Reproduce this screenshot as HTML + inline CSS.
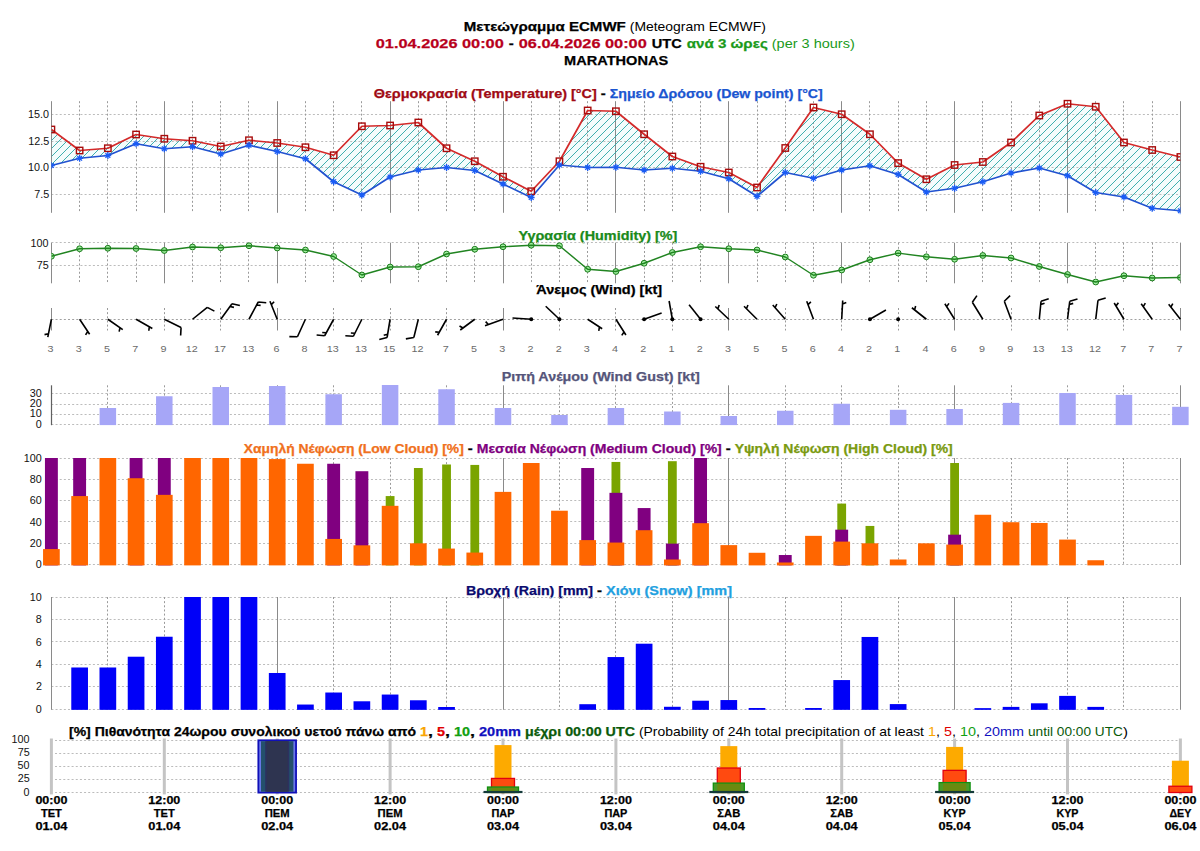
<!DOCTYPE html>
<html><head><meta charset="utf-8"><title>Meteogram ECMWF</title>
<style>html,body{margin:0;padding:0;background:#fff;}svg{display:block;}text{font-family:"Liberation Sans",sans-serif;}</style>
</head><body>
<svg width="1200" height="851" viewBox="0 0 1200 851">
<rect width="1200" height="851" fill="#fff"/>
<text x="463.81" y="30.80" font-size="13.65" font-weight="bold" fill="#000" stroke="#000" stroke-width="0.25" textLength="162.00" lengthAdjust="spacingAndGlyphs">Μετεώγραμμα ECMWF</text>
<text x="629.81" y="30.80" font-size="13.65" font-weight="normal" fill="#000" textLength="136.00" lengthAdjust="spacingAndGlyphs">(Meteogram ECMWF)</text>
<text x="375.78" y="47.60" font-size="13.65" font-weight="bold" fill="#b8001c" stroke="#b8001c" stroke-width="0.25" textLength="128.00" lengthAdjust="spacingAndGlyphs">01.04.2026 00:00</text>
<text x="508.78" y="47.60" font-size="13.65" font-weight="bold" fill="#000" stroke="#000" stroke-width="0.25" textLength="5.00" lengthAdjust="spacingAndGlyphs">-</text>
<text x="518.78" y="47.60" font-size="13.65" font-weight="bold" fill="#b8001c" stroke="#b8001c" stroke-width="0.25" textLength="128.00" lengthAdjust="spacingAndGlyphs">06.04.2026 00:00</text>
<text x="651.78" y="47.60" font-size="13.65" font-weight="bold" fill="#000" stroke="#000" stroke-width="0.25" textLength="30.00" lengthAdjust="spacingAndGlyphs">UTC</text>
<text x="686.78" y="47.60" font-size="13.65" font-weight="bold" fill="#1a9a1a" stroke="#1a9a1a" stroke-width="0.25" textLength="81.00" lengthAdjust="spacingAndGlyphs">ανά 3 ώρες</text>
<text x="771.78" y="47.60" font-size="13.65" font-weight="normal" fill="#1a9a1a" textLength="83.00" lengthAdjust="spacingAndGlyphs">(per 3 hours)</text>
<text x="564.11" y="64.60" font-size="13.65" font-weight="bold" fill="#000" stroke="#000" stroke-width="0.25" textLength="104.00" lengthAdjust="spacingAndGlyphs">MARATHONAS</text>
<text x="373.80" y="98.20" font-size="12.60" font-weight="bold" fill="#a00a14" stroke="#a00a14" stroke-width="0.25" textLength="223.00" lengthAdjust="spacingAndGlyphs">Θερμοκρασία (Temperature) [°C]</text>
<text x="600.80" y="98.20" font-size="12.60" font-weight="bold" fill="#000" stroke="#000" stroke-width="0.25" textLength="5.00" lengthAdjust="spacingAndGlyphs">-</text>
<text x="609.80" y="98.20" font-size="12.60" font-weight="bold" fill="#1a55d0" stroke="#1a55d0" stroke-width="0.25" textLength="213.00" lengthAdjust="spacingAndGlyphs">Σημείο Δρόσου (Dew point) [°C]</text>
<polygon points="51.40,129.50 79.62,150.50 107.85,148.25 136.08,134.50 164.30,138.75 192.53,140.75 220.75,146.50 248.98,140.25 277.20,143.00 305.43,147.25 333.65,155.25 361.88,126.25 390.10,125.50 418.32,122.50 446.55,148.25 474.77,161.25 503.00,176.75 531.23,191.25 559.45,161.25 587.67,110.50 615.90,111.25 644.12,134.25 672.35,156.50 700.58,166.75 728.80,172.50 757.02,187.50 785.25,148.00 813.48,107.50 841.70,114.25 869.93,134.25 898.15,163.10 926.38,179.25 954.60,165.00 982.83,162.00 1011.05,142.50 1039.28,115.50 1067.50,103.75 1095.73,106.75 1123.95,142.50 1152.18,150.00 1180.40,157.00 1180.40,210.75 1152.18,208.25 1123.95,197.00 1095.73,192.50 1067.50,175.75 1039.28,168.00 1011.05,173.00 982.83,181.75 954.60,188.25 926.38,192.00 898.15,174.50 869.93,165.75 841.70,170.00 813.48,178.25 785.25,172.50 757.02,196.25 728.80,178.75 700.58,171.25 672.35,168.25 644.12,170.00 615.90,167.25 587.67,167.50 559.45,165.00 531.23,197.50 503.00,184.00 474.77,170.50 446.55,167.50 418.32,170.00 390.10,177.00 361.88,195.00 333.65,181.75 305.43,158.75 277.20,151.50 248.98,145.25 220.75,154.00 192.53,146.75 164.30,148.75 136.08,143.75 107.85,155.50 79.62,158.25 51.40,165.50" fill="#f4fcfc"/>
<line x1="51.40" y1="114.50" x2="1180.40" y2="114.50" stroke="#bcbcbc" stroke-width="1" stroke-dasharray="2,2.15"/>
<line x1="51.40" y1="141.50" x2="1180.40" y2="141.50" stroke="#bcbcbc" stroke-width="1" stroke-dasharray="2,2.15"/>
<line x1="51.40" y1="167.50" x2="1180.40" y2="167.50" stroke="#bcbcbc" stroke-width="1" stroke-dasharray="2,2.15"/>
<line x1="51.40" y1="194.50" x2="1180.40" y2="194.50" stroke="#bcbcbc" stroke-width="1" stroke-dasharray="2,2.15"/>
<line x1="51.50" y1="101.20" x2="51.50" y2="212.80" stroke="#8a8a8a" stroke-width="1"/>
<line x1="79.50" y1="101.20" x2="79.50" y2="212.80" stroke="#9a9a9a" stroke-width="1" stroke-dasharray="2,2.15"/>
<line x1="107.50" y1="101.20" x2="107.50" y2="212.80" stroke="#9a9a9a" stroke-width="1" stroke-dasharray="2,2.15"/>
<line x1="136.50" y1="101.20" x2="136.50" y2="212.80" stroke="#9a9a9a" stroke-width="1" stroke-dasharray="2,2.15"/>
<line x1="164.50" y1="101.20" x2="164.50" y2="212.80" stroke="#8a8a8a" stroke-width="1"/>
<line x1="192.50" y1="101.20" x2="192.50" y2="212.80" stroke="#9a9a9a" stroke-width="1" stroke-dasharray="2,2.15"/>
<line x1="220.50" y1="101.20" x2="220.50" y2="212.80" stroke="#9a9a9a" stroke-width="1" stroke-dasharray="2,2.15"/>
<line x1="248.50" y1="101.20" x2="248.50" y2="212.80" stroke="#9a9a9a" stroke-width="1" stroke-dasharray="2,2.15"/>
<line x1="277.50" y1="101.20" x2="277.50" y2="212.80" stroke="#8a8a8a" stroke-width="1"/>
<line x1="305.50" y1="101.20" x2="305.50" y2="212.80" stroke="#9a9a9a" stroke-width="1" stroke-dasharray="2,2.15"/>
<line x1="333.50" y1="101.20" x2="333.50" y2="212.80" stroke="#9a9a9a" stroke-width="1" stroke-dasharray="2,2.15"/>
<line x1="361.50" y1="101.20" x2="361.50" y2="212.80" stroke="#9a9a9a" stroke-width="1" stroke-dasharray="2,2.15"/>
<line x1="390.50" y1="101.20" x2="390.50" y2="212.80" stroke="#8a8a8a" stroke-width="1"/>
<line x1="418.50" y1="101.20" x2="418.50" y2="212.80" stroke="#9a9a9a" stroke-width="1" stroke-dasharray="2,2.15"/>
<line x1="446.50" y1="101.20" x2="446.50" y2="212.80" stroke="#9a9a9a" stroke-width="1" stroke-dasharray="2,2.15"/>
<line x1="474.50" y1="101.20" x2="474.50" y2="212.80" stroke="#9a9a9a" stroke-width="1" stroke-dasharray="2,2.15"/>
<line x1="503.50" y1="101.20" x2="503.50" y2="212.80" stroke="#8a8a8a" stroke-width="1"/>
<line x1="531.50" y1="101.20" x2="531.50" y2="212.80" stroke="#9a9a9a" stroke-width="1" stroke-dasharray="2,2.15"/>
<line x1="559.50" y1="101.20" x2="559.50" y2="212.80" stroke="#9a9a9a" stroke-width="1" stroke-dasharray="2,2.15"/>
<line x1="587.50" y1="101.20" x2="587.50" y2="212.80" stroke="#9a9a9a" stroke-width="1" stroke-dasharray="2,2.15"/>
<line x1="615.50" y1="101.20" x2="615.50" y2="212.80" stroke="#8a8a8a" stroke-width="1"/>
<line x1="644.50" y1="101.20" x2="644.50" y2="212.80" stroke="#9a9a9a" stroke-width="1" stroke-dasharray="2,2.15"/>
<line x1="672.50" y1="101.20" x2="672.50" y2="212.80" stroke="#9a9a9a" stroke-width="1" stroke-dasharray="2,2.15"/>
<line x1="700.50" y1="101.20" x2="700.50" y2="212.80" stroke="#9a9a9a" stroke-width="1" stroke-dasharray="2,2.15"/>
<line x1="728.50" y1="101.20" x2="728.50" y2="212.80" stroke="#8a8a8a" stroke-width="1"/>
<line x1="757.50" y1="101.20" x2="757.50" y2="212.80" stroke="#9a9a9a" stroke-width="1" stroke-dasharray="2,2.15"/>
<line x1="785.50" y1="101.20" x2="785.50" y2="212.80" stroke="#9a9a9a" stroke-width="1" stroke-dasharray="2,2.15"/>
<line x1="813.50" y1="101.20" x2="813.50" y2="212.80" stroke="#9a9a9a" stroke-width="1" stroke-dasharray="2,2.15"/>
<line x1="841.50" y1="101.20" x2="841.50" y2="212.80" stroke="#8a8a8a" stroke-width="1"/>
<line x1="869.50" y1="101.20" x2="869.50" y2="212.80" stroke="#9a9a9a" stroke-width="1" stroke-dasharray="2,2.15"/>
<line x1="898.50" y1="101.20" x2="898.50" y2="212.80" stroke="#9a9a9a" stroke-width="1" stroke-dasharray="2,2.15"/>
<line x1="926.50" y1="101.20" x2="926.50" y2="212.80" stroke="#9a9a9a" stroke-width="1" stroke-dasharray="2,2.15"/>
<line x1="954.50" y1="101.20" x2="954.50" y2="212.80" stroke="#8a8a8a" stroke-width="1"/>
<line x1="982.50" y1="101.20" x2="982.50" y2="212.80" stroke="#9a9a9a" stroke-width="1" stroke-dasharray="2,2.15"/>
<line x1="1011.50" y1="101.20" x2="1011.50" y2="212.80" stroke="#9a9a9a" stroke-width="1" stroke-dasharray="2,2.15"/>
<line x1="1039.50" y1="101.20" x2="1039.50" y2="212.80" stroke="#9a9a9a" stroke-width="1" stroke-dasharray="2,2.15"/>
<line x1="1067.50" y1="101.20" x2="1067.50" y2="212.80" stroke="#8a8a8a" stroke-width="1"/>
<line x1="1095.50" y1="101.20" x2="1095.50" y2="212.80" stroke="#9a9a9a" stroke-width="1" stroke-dasharray="2,2.15"/>
<line x1="1123.50" y1="101.20" x2="1123.50" y2="212.80" stroke="#9a9a9a" stroke-width="1" stroke-dasharray="2,2.15"/>
<line x1="1152.50" y1="101.20" x2="1152.50" y2="212.80" stroke="#9a9a9a" stroke-width="1" stroke-dasharray="2,2.15"/>
<line x1="1180.50" y1="101.20" x2="1180.50" y2="212.80" stroke="#8a8a8a" stroke-width="1"/>
<text x="27.96" y="118.14" font-size="10.50" font-weight="normal" fill="#111" textLength="21.00" lengthAdjust="spacingAndGlyphs">15.0</text>
<text x="28.17" y="144.75" font-size="10.50" font-weight="normal" fill="#111" textLength="21.00" lengthAdjust="spacingAndGlyphs">12.5</text>
<text x="27.96" y="171.25" font-size="10.50" font-weight="normal" fill="#111" textLength="21.00" lengthAdjust="spacingAndGlyphs">10.0</text>
<text x="34.17" y="197.84" font-size="10.50" font-weight="normal" fill="#111" textLength="15.00" lengthAdjust="spacingAndGlyphs">7.5</text>
<defs><pattern id="hatch" patternUnits="userSpaceOnUse" width="8" height="8"><path d="M-2,2 L2,-2 M0,8 L8,0 M6,10 L10,6" stroke="#2aa6a6" stroke-width="0.9"/></pattern><clipPath id="tclip"><rect x="51.40" y="0" width="1129.00" height="851"/></clipPath></defs>
<g clip-path="url(#tclip)">
<polygon points="51.40,129.50 79.62,150.50 107.85,148.25 136.08,134.50 164.30,138.75 192.53,140.75 220.75,146.50 248.98,140.25 277.20,143.00 305.43,147.25 333.65,155.25 361.88,126.25 390.10,125.50 418.32,122.50 446.55,148.25 474.77,161.25 503.00,176.75 531.23,191.25 559.45,161.25 587.67,110.50 615.90,111.25 644.12,134.25 672.35,156.50 700.58,166.75 728.80,172.50 757.02,187.50 785.25,148.00 813.48,107.50 841.70,114.25 869.93,134.25 898.15,163.10 926.38,179.25 954.60,165.00 982.83,162.00 1011.05,142.50 1039.28,115.50 1067.50,103.75 1095.73,106.75 1123.95,142.50 1152.18,150.00 1180.40,157.00 1180.40,210.75 1152.18,208.25 1123.95,197.00 1095.73,192.50 1067.50,175.75 1039.28,168.00 1011.05,173.00 982.83,181.75 954.60,188.25 926.38,192.00 898.15,174.50 869.93,165.75 841.70,170.00 813.48,178.25 785.25,172.50 757.02,196.25 728.80,178.75 700.58,171.25 672.35,168.25 644.12,170.00 615.90,167.25 587.67,167.50 559.45,165.00 531.23,197.50 503.00,184.00 474.77,170.50 446.55,167.50 418.32,170.00 390.10,177.00 361.88,195.00 333.65,181.75 305.43,158.75 277.20,151.50 248.98,145.25 220.75,154.00 192.53,146.75 164.30,148.75 136.08,143.75 107.85,155.50 79.62,158.25 51.40,165.50" fill="url(#hatch)"/>
<polyline points="51.40,129.50 79.62,150.50 107.85,148.25 136.08,134.50 164.30,138.75 192.53,140.75 220.75,146.50 248.98,140.25 277.20,143.00 305.43,147.25 333.65,155.25 361.88,126.25 390.10,125.50 418.32,122.50 446.55,148.25 474.77,161.25 503.00,176.75 531.23,191.25 559.45,161.25 587.67,110.50 615.90,111.25 644.12,134.25 672.35,156.50 700.58,166.75 728.80,172.50 757.02,187.50 785.25,148.00 813.48,107.50 841.70,114.25 869.93,134.25 898.15,163.10 926.38,179.25 954.60,165.00 982.83,162.00 1011.05,142.50 1039.28,115.50 1067.50,103.75 1095.73,106.75 1123.95,142.50 1152.18,150.00 1180.40,157.00" fill="none" stroke="#d42a2a" stroke-width="1.7" stroke-linejoin="round"/>
<polyline points="51.40,165.50 79.62,158.25 107.85,155.50 136.08,143.75 164.30,148.75 192.53,146.75 220.75,154.00 248.98,145.25 277.20,151.50 305.43,158.75 333.65,181.75 361.88,195.00 390.10,177.00 418.32,170.00 446.55,167.50 474.77,170.50 503.00,184.00 531.23,197.50 559.45,165.00 587.67,167.50 615.90,167.25 644.12,170.00 672.35,168.25 700.58,171.25 728.80,178.75 757.02,196.25 785.25,172.50 813.48,178.25 841.70,170.00 869.93,165.75 898.15,174.50 926.38,192.00 954.60,188.25 982.83,181.75 1011.05,173.00 1039.28,168.00 1067.50,175.75 1095.73,192.50 1123.95,197.00 1152.18,208.25 1180.40,210.75" fill="none" stroke="#2152d0" stroke-width="1.7" stroke-linejoin="round"/>
<rect x="48.20" y="126.30" width="6.4" height="6.4" fill="none" stroke="#a80c0c" stroke-width="1.4"/>
<rect x="76.42" y="147.30" width="6.4" height="6.4" fill="none" stroke="#a80c0c" stroke-width="1.4"/>
<rect x="104.65" y="145.05" width="6.4" height="6.4" fill="none" stroke="#a80c0c" stroke-width="1.4"/>
<rect x="132.88" y="131.30" width="6.4" height="6.4" fill="none" stroke="#a80c0c" stroke-width="1.4"/>
<rect x="161.10" y="135.55" width="6.4" height="6.4" fill="none" stroke="#a80c0c" stroke-width="1.4"/>
<rect x="189.33" y="137.55" width="6.4" height="6.4" fill="none" stroke="#a80c0c" stroke-width="1.4"/>
<rect x="217.55" y="143.30" width="6.4" height="6.4" fill="none" stroke="#a80c0c" stroke-width="1.4"/>
<rect x="245.78" y="137.05" width="6.4" height="6.4" fill="none" stroke="#a80c0c" stroke-width="1.4"/>
<rect x="274.00" y="139.80" width="6.4" height="6.4" fill="none" stroke="#a80c0c" stroke-width="1.4"/>
<rect x="302.23" y="144.05" width="6.4" height="6.4" fill="none" stroke="#a80c0c" stroke-width="1.4"/>
<rect x="330.45" y="152.05" width="6.4" height="6.4" fill="none" stroke="#a80c0c" stroke-width="1.4"/>
<rect x="358.68" y="123.05" width="6.4" height="6.4" fill="none" stroke="#a80c0c" stroke-width="1.4"/>
<rect x="386.90" y="122.30" width="6.4" height="6.4" fill="none" stroke="#a80c0c" stroke-width="1.4"/>
<rect x="415.12" y="119.30" width="6.4" height="6.4" fill="none" stroke="#a80c0c" stroke-width="1.4"/>
<rect x="443.35" y="145.05" width="6.4" height="6.4" fill="none" stroke="#a80c0c" stroke-width="1.4"/>
<rect x="471.57" y="158.05" width="6.4" height="6.4" fill="none" stroke="#a80c0c" stroke-width="1.4"/>
<rect x="499.80" y="173.55" width="6.4" height="6.4" fill="none" stroke="#a80c0c" stroke-width="1.4"/>
<rect x="528.02" y="188.05" width="6.4" height="6.4" fill="none" stroke="#a80c0c" stroke-width="1.4"/>
<rect x="556.25" y="158.05" width="6.4" height="6.4" fill="none" stroke="#a80c0c" stroke-width="1.4"/>
<rect x="584.47" y="107.30" width="6.4" height="6.4" fill="none" stroke="#a80c0c" stroke-width="1.4"/>
<rect x="612.70" y="108.05" width="6.4" height="6.4" fill="none" stroke="#a80c0c" stroke-width="1.4"/>
<rect x="640.92" y="131.05" width="6.4" height="6.4" fill="none" stroke="#a80c0c" stroke-width="1.4"/>
<rect x="669.15" y="153.30" width="6.4" height="6.4" fill="none" stroke="#a80c0c" stroke-width="1.4"/>
<rect x="697.38" y="163.55" width="6.4" height="6.4" fill="none" stroke="#a80c0c" stroke-width="1.4"/>
<rect x="725.60" y="169.30" width="6.4" height="6.4" fill="none" stroke="#a80c0c" stroke-width="1.4"/>
<rect x="753.82" y="184.30" width="6.4" height="6.4" fill="none" stroke="#a80c0c" stroke-width="1.4"/>
<rect x="782.05" y="144.80" width="6.4" height="6.4" fill="none" stroke="#a80c0c" stroke-width="1.4"/>
<rect x="810.27" y="104.30" width="6.4" height="6.4" fill="none" stroke="#a80c0c" stroke-width="1.4"/>
<rect x="838.50" y="111.05" width="6.4" height="6.4" fill="none" stroke="#a80c0c" stroke-width="1.4"/>
<rect x="866.73" y="131.05" width="6.4" height="6.4" fill="none" stroke="#a80c0c" stroke-width="1.4"/>
<rect x="894.95" y="159.90" width="6.4" height="6.4" fill="none" stroke="#a80c0c" stroke-width="1.4"/>
<rect x="923.17" y="176.05" width="6.4" height="6.4" fill="none" stroke="#a80c0c" stroke-width="1.4"/>
<rect x="951.40" y="161.80" width="6.4" height="6.4" fill="none" stroke="#a80c0c" stroke-width="1.4"/>
<rect x="979.62" y="158.80" width="6.4" height="6.4" fill="none" stroke="#a80c0c" stroke-width="1.4"/>
<rect x="1007.85" y="139.30" width="6.4" height="6.4" fill="none" stroke="#a80c0c" stroke-width="1.4"/>
<rect x="1036.08" y="112.30" width="6.4" height="6.4" fill="none" stroke="#a80c0c" stroke-width="1.4"/>
<rect x="1064.30" y="100.55" width="6.4" height="6.4" fill="none" stroke="#a80c0c" stroke-width="1.4"/>
<rect x="1092.53" y="103.55" width="6.4" height="6.4" fill="none" stroke="#a80c0c" stroke-width="1.4"/>
<rect x="1120.75" y="139.30" width="6.4" height="6.4" fill="none" stroke="#a80c0c" stroke-width="1.4"/>
<rect x="1148.98" y="146.80" width="6.4" height="6.4" fill="none" stroke="#a80c0c" stroke-width="1.4"/>
<rect x="1177.20" y="153.80" width="6.4" height="6.4" fill="none" stroke="#a80c0c" stroke-width="1.4"/>
<path d="M48.00,165.50 L54.80,165.50 M49.00,163.10 L53.80,167.90 M51.40,162.10 L51.40,168.90 M53.80,163.10 L49.00,167.90 " stroke="#1a5cf5" stroke-width="1.3"/>
<path d="M76.22,158.25 L83.03,158.25 M77.22,155.85 L82.03,160.65 M79.62,154.85 L79.62,161.65 M82.03,155.85 L77.22,160.65 " stroke="#1a5cf5" stroke-width="1.3"/>
<path d="M104.45,155.50 L111.25,155.50 M105.45,153.10 L110.25,157.90 M107.85,152.10 L107.85,158.90 M110.25,153.10 L105.45,157.90 " stroke="#1a5cf5" stroke-width="1.3"/>
<path d="M132.68,143.75 L139.48,143.75 M133.67,141.35 L138.48,146.15 M136.08,140.35 L136.08,147.15 M138.48,141.35 L133.67,146.15 " stroke="#1a5cf5" stroke-width="1.3"/>
<path d="M160.90,148.75 L167.70,148.75 M161.90,146.35 L166.70,151.15 M164.30,145.35 L164.30,152.15 M166.70,146.35 L161.90,151.15 " stroke="#1a5cf5" stroke-width="1.3"/>
<path d="M189.12,146.75 L195.93,146.75 M190.12,144.35 L194.93,149.15 M192.53,143.35 L192.53,150.15 M194.93,144.35 L190.12,149.15 " stroke="#1a5cf5" stroke-width="1.3"/>
<path d="M217.35,154.00 L224.15,154.00 M218.35,151.60 L223.15,156.40 M220.75,150.60 L220.75,157.40 M223.15,151.60 L218.35,156.40 " stroke="#1a5cf5" stroke-width="1.3"/>
<path d="M245.58,145.25 L252.38,145.25 M246.57,142.85 L251.38,147.65 M248.98,141.85 L248.98,148.65 M251.38,142.85 L246.57,147.65 " stroke="#1a5cf5" stroke-width="1.3"/>
<path d="M273.80,151.50 L280.60,151.50 M274.80,149.10 L279.60,153.90 M277.20,148.10 L277.20,154.90 M279.60,149.10 L274.80,153.90 " stroke="#1a5cf5" stroke-width="1.3"/>
<path d="M302.03,158.75 L308.82,158.75 M303.02,156.35 L307.83,161.15 M305.43,155.35 L305.43,162.15 M307.83,156.35 L303.02,161.15 " stroke="#1a5cf5" stroke-width="1.3"/>
<path d="M330.25,181.75 L337.05,181.75 M331.25,179.35 L336.05,184.15 M333.65,178.35 L333.65,185.15 M336.05,179.35 L331.25,184.15 " stroke="#1a5cf5" stroke-width="1.3"/>
<path d="M358.48,195.00 L365.27,195.00 M359.47,192.60 L364.28,197.40 M361.88,191.60 L361.88,198.40 M364.28,192.60 L359.47,197.40 " stroke="#1a5cf5" stroke-width="1.3"/>
<path d="M386.70,177.00 L393.50,177.00 M387.70,174.60 L392.50,179.40 M390.10,173.60 L390.10,180.40 M392.50,174.60 L387.70,179.40 " stroke="#1a5cf5" stroke-width="1.3"/>
<path d="M414.93,170.00 L421.72,170.00 M415.92,167.60 L420.73,172.40 M418.32,166.60 L418.32,173.40 M420.73,167.60 L415.92,172.40 " stroke="#1a5cf5" stroke-width="1.3"/>
<path d="M443.15,167.50 L449.95,167.50 M444.15,165.10 L448.95,169.90 M446.55,164.10 L446.55,170.90 M448.95,165.10 L444.15,169.90 " stroke="#1a5cf5" stroke-width="1.3"/>
<path d="M471.38,170.50 L478.17,170.50 M472.37,168.10 L477.18,172.90 M474.77,167.10 L474.77,173.90 M477.18,168.10 L472.37,172.90 " stroke="#1a5cf5" stroke-width="1.3"/>
<path d="M499.60,184.00 L506.40,184.00 M500.60,181.60 L505.40,186.40 M503.00,180.60 L503.00,187.40 M505.40,181.60 L500.60,186.40 " stroke="#1a5cf5" stroke-width="1.3"/>
<path d="M527.83,197.50 L534.62,197.50 M528.82,195.10 L533.63,199.90 M531.23,194.10 L531.23,200.90 M533.63,195.10 L528.82,199.90 " stroke="#1a5cf5" stroke-width="1.3"/>
<path d="M556.05,165.00 L562.85,165.00 M557.05,162.60 L561.85,167.40 M559.45,161.60 L559.45,168.40 M561.85,162.60 L557.05,167.40 " stroke="#1a5cf5" stroke-width="1.3"/>
<path d="M584.27,167.50 L591.07,167.50 M585.27,165.10 L590.08,169.90 M587.67,164.10 L587.67,170.90 M590.08,165.10 L585.27,169.90 " stroke="#1a5cf5" stroke-width="1.3"/>
<path d="M612.50,167.25 L619.30,167.25 M613.50,164.85 L618.30,169.65 M615.90,163.85 L615.90,170.65 M618.30,164.85 L613.50,169.65 " stroke="#1a5cf5" stroke-width="1.3"/>
<path d="M640.73,170.00 L647.52,170.00 M641.72,167.60 L646.53,172.40 M644.12,166.60 L644.12,173.40 M646.53,167.60 L641.72,172.40 " stroke="#1a5cf5" stroke-width="1.3"/>
<path d="M668.95,168.25 L675.75,168.25 M669.95,165.85 L674.75,170.65 M672.35,164.85 L672.35,171.65 M674.75,165.85 L669.95,170.65 " stroke="#1a5cf5" stroke-width="1.3"/>
<path d="M697.18,171.25 L703.98,171.25 M698.17,168.85 L702.98,173.65 M700.58,167.85 L700.58,174.65 M702.98,168.85 L698.17,173.65 " stroke="#1a5cf5" stroke-width="1.3"/>
<path d="M725.40,178.75 L732.20,178.75 M726.40,176.35 L731.20,181.15 M728.80,175.35 L728.80,182.15 M731.20,176.35 L726.40,181.15 " stroke="#1a5cf5" stroke-width="1.3"/>
<path d="M753.62,196.25 L760.42,196.25 M754.62,193.85 L759.43,198.65 M757.02,192.85 L757.02,199.65 M759.43,193.85 L754.62,198.65 " stroke="#1a5cf5" stroke-width="1.3"/>
<path d="M781.85,172.50 L788.65,172.50 M782.85,170.10 L787.65,174.90 M785.25,169.10 L785.25,175.90 M787.65,170.10 L782.85,174.90 " stroke="#1a5cf5" stroke-width="1.3"/>
<path d="M810.08,178.25 L816.88,178.25 M811.07,175.85 L815.88,180.65 M813.48,174.85 L813.48,181.65 M815.88,175.85 L811.07,180.65 " stroke="#1a5cf5" stroke-width="1.3"/>
<path d="M838.30,170.00 L845.10,170.00 M839.30,167.60 L844.10,172.40 M841.70,166.60 L841.70,173.40 M844.10,167.60 L839.30,172.40 " stroke="#1a5cf5" stroke-width="1.3"/>
<path d="M866.53,165.75 L873.33,165.75 M867.52,163.35 L872.33,168.15 M869.93,162.35 L869.93,169.15 M872.33,163.35 L867.52,168.15 " stroke="#1a5cf5" stroke-width="1.3"/>
<path d="M894.75,174.50 L901.55,174.50 M895.75,172.10 L900.55,176.90 M898.15,171.10 L898.15,177.90 M900.55,172.10 L895.75,176.90 " stroke="#1a5cf5" stroke-width="1.3"/>
<path d="M922.98,192.00 L929.77,192.00 M923.97,189.60 L928.78,194.40 M926.38,188.60 L926.38,195.40 M928.78,189.60 L923.97,194.40 " stroke="#1a5cf5" stroke-width="1.3"/>
<path d="M951.20,188.25 L958.00,188.25 M952.20,185.85 L957.00,190.65 M954.60,184.85 L954.60,191.65 M957.00,185.85 L952.20,190.65 " stroke="#1a5cf5" stroke-width="1.3"/>
<path d="M979.43,181.75 L986.23,181.75 M980.42,179.35 L985.23,184.15 M982.83,178.35 L982.83,185.15 M985.23,179.35 L980.42,184.15 " stroke="#1a5cf5" stroke-width="1.3"/>
<path d="M1007.65,173.00 L1014.45,173.00 M1008.65,170.60 L1013.45,175.40 M1011.05,169.60 L1011.05,176.40 M1013.45,170.60 L1008.65,175.40 " stroke="#1a5cf5" stroke-width="1.3"/>
<path d="M1035.88,168.00 L1042.68,168.00 M1036.87,165.60 L1041.68,170.40 M1039.28,164.60 L1039.28,171.40 M1041.68,165.60 L1036.87,170.40 " stroke="#1a5cf5" stroke-width="1.3"/>
<path d="M1064.10,175.75 L1070.90,175.75 M1065.10,173.35 L1069.90,178.15 M1067.50,172.35 L1067.50,179.15 M1069.90,173.35 L1065.10,178.15 " stroke="#1a5cf5" stroke-width="1.3"/>
<path d="M1092.33,192.50 L1099.13,192.50 M1093.32,190.10 L1098.13,194.90 M1095.73,189.10 L1095.73,195.90 M1098.13,190.10 L1093.32,194.90 " stroke="#1a5cf5" stroke-width="1.3"/>
<path d="M1120.55,197.00 L1127.35,197.00 M1121.55,194.60 L1126.35,199.40 M1123.95,193.60 L1123.95,200.40 M1126.35,194.60 L1121.55,199.40 " stroke="#1a5cf5" stroke-width="1.3"/>
<path d="M1148.78,208.25 L1155.58,208.25 M1149.77,205.85 L1154.58,210.65 M1152.18,204.85 L1152.18,211.65 M1154.58,205.85 L1149.77,210.65 " stroke="#1a5cf5" stroke-width="1.3"/>
<path d="M1177.00,210.75 L1183.80,210.75 M1178.00,208.35 L1182.80,213.15 M1180.40,207.35 L1180.40,214.15 M1182.80,208.35 L1178.00,213.15 " stroke="#1a5cf5" stroke-width="1.3"/>
</g>
<text x="518.42" y="240.20" font-size="12.60" font-weight="bold" fill="#1a8a1a" stroke="#1a8a1a" stroke-width="0.25" textLength="159.00" lengthAdjust="spacingAndGlyphs">Υγρασία (Humidity) [%]</text>
<line x1="51.40" y1="242.50" x2="1180.40" y2="242.50" stroke="#bcbcbc" stroke-width="1" stroke-dasharray="2,2.15"/>
<line x1="51.40" y1="265.50" x2="1180.40" y2="265.50" stroke="#bcbcbc" stroke-width="1" stroke-dasharray="2,2.15"/>
<line x1="51.50" y1="242.70" x2="51.50" y2="283.30" stroke="#8a8a8a" stroke-width="1"/>
<line x1="79.50" y1="242.70" x2="79.50" y2="283.30" stroke="#9a9a9a" stroke-width="1" stroke-dasharray="2,2.15"/>
<line x1="107.50" y1="242.70" x2="107.50" y2="283.30" stroke="#9a9a9a" stroke-width="1" stroke-dasharray="2,2.15"/>
<line x1="136.50" y1="242.70" x2="136.50" y2="283.30" stroke="#9a9a9a" stroke-width="1" stroke-dasharray="2,2.15"/>
<line x1="164.50" y1="242.70" x2="164.50" y2="283.30" stroke="#8a8a8a" stroke-width="1"/>
<line x1="192.50" y1="242.70" x2="192.50" y2="283.30" stroke="#9a9a9a" stroke-width="1" stroke-dasharray="2,2.15"/>
<line x1="220.50" y1="242.70" x2="220.50" y2="283.30" stroke="#9a9a9a" stroke-width="1" stroke-dasharray="2,2.15"/>
<line x1="248.50" y1="242.70" x2="248.50" y2="283.30" stroke="#9a9a9a" stroke-width="1" stroke-dasharray="2,2.15"/>
<line x1="277.50" y1="242.70" x2="277.50" y2="283.30" stroke="#8a8a8a" stroke-width="1"/>
<line x1="305.50" y1="242.70" x2="305.50" y2="283.30" stroke="#9a9a9a" stroke-width="1" stroke-dasharray="2,2.15"/>
<line x1="333.50" y1="242.70" x2="333.50" y2="283.30" stroke="#9a9a9a" stroke-width="1" stroke-dasharray="2,2.15"/>
<line x1="361.50" y1="242.70" x2="361.50" y2="283.30" stroke="#9a9a9a" stroke-width="1" stroke-dasharray="2,2.15"/>
<line x1="390.50" y1="242.70" x2="390.50" y2="283.30" stroke="#8a8a8a" stroke-width="1"/>
<line x1="418.50" y1="242.70" x2="418.50" y2="283.30" stroke="#9a9a9a" stroke-width="1" stroke-dasharray="2,2.15"/>
<line x1="446.50" y1="242.70" x2="446.50" y2="283.30" stroke="#9a9a9a" stroke-width="1" stroke-dasharray="2,2.15"/>
<line x1="474.50" y1="242.70" x2="474.50" y2="283.30" stroke="#9a9a9a" stroke-width="1" stroke-dasharray="2,2.15"/>
<line x1="503.50" y1="242.70" x2="503.50" y2="283.30" stroke="#8a8a8a" stroke-width="1"/>
<line x1="531.50" y1="242.70" x2="531.50" y2="283.30" stroke="#9a9a9a" stroke-width="1" stroke-dasharray="2,2.15"/>
<line x1="559.50" y1="242.70" x2="559.50" y2="283.30" stroke="#9a9a9a" stroke-width="1" stroke-dasharray="2,2.15"/>
<line x1="587.50" y1="242.70" x2="587.50" y2="283.30" stroke="#9a9a9a" stroke-width="1" stroke-dasharray="2,2.15"/>
<line x1="615.50" y1="242.70" x2="615.50" y2="283.30" stroke="#8a8a8a" stroke-width="1"/>
<line x1="644.50" y1="242.70" x2="644.50" y2="283.30" stroke="#9a9a9a" stroke-width="1" stroke-dasharray="2,2.15"/>
<line x1="672.50" y1="242.70" x2="672.50" y2="283.30" stroke="#9a9a9a" stroke-width="1" stroke-dasharray="2,2.15"/>
<line x1="700.50" y1="242.70" x2="700.50" y2="283.30" stroke="#9a9a9a" stroke-width="1" stroke-dasharray="2,2.15"/>
<line x1="728.50" y1="242.70" x2="728.50" y2="283.30" stroke="#8a8a8a" stroke-width="1"/>
<line x1="757.50" y1="242.70" x2="757.50" y2="283.30" stroke="#9a9a9a" stroke-width="1" stroke-dasharray="2,2.15"/>
<line x1="785.50" y1="242.70" x2="785.50" y2="283.30" stroke="#9a9a9a" stroke-width="1" stroke-dasharray="2,2.15"/>
<line x1="813.50" y1="242.70" x2="813.50" y2="283.30" stroke="#9a9a9a" stroke-width="1" stroke-dasharray="2,2.15"/>
<line x1="841.50" y1="242.70" x2="841.50" y2="283.30" stroke="#8a8a8a" stroke-width="1"/>
<line x1="869.50" y1="242.70" x2="869.50" y2="283.30" stroke="#9a9a9a" stroke-width="1" stroke-dasharray="2,2.15"/>
<line x1="898.50" y1="242.70" x2="898.50" y2="283.30" stroke="#9a9a9a" stroke-width="1" stroke-dasharray="2,2.15"/>
<line x1="926.50" y1="242.70" x2="926.50" y2="283.30" stroke="#9a9a9a" stroke-width="1" stroke-dasharray="2,2.15"/>
<line x1="954.50" y1="242.70" x2="954.50" y2="283.30" stroke="#8a8a8a" stroke-width="1"/>
<line x1="982.50" y1="242.70" x2="982.50" y2="283.30" stroke="#9a9a9a" stroke-width="1" stroke-dasharray="2,2.15"/>
<line x1="1011.50" y1="242.70" x2="1011.50" y2="283.30" stroke="#9a9a9a" stroke-width="1" stroke-dasharray="2,2.15"/>
<line x1="1039.50" y1="242.70" x2="1039.50" y2="283.30" stroke="#9a9a9a" stroke-width="1" stroke-dasharray="2,2.15"/>
<line x1="1067.50" y1="242.70" x2="1067.50" y2="283.30" stroke="#8a8a8a" stroke-width="1"/>
<line x1="1095.50" y1="242.70" x2="1095.50" y2="283.30" stroke="#9a9a9a" stroke-width="1" stroke-dasharray="2,2.15"/>
<line x1="1123.50" y1="242.70" x2="1123.50" y2="283.30" stroke="#9a9a9a" stroke-width="1" stroke-dasharray="2,2.15"/>
<line x1="1152.50" y1="242.70" x2="1152.50" y2="283.30" stroke="#9a9a9a" stroke-width="1" stroke-dasharray="2,2.15"/>
<line x1="1180.50" y1="242.70" x2="1180.50" y2="283.30" stroke="#8a8a8a" stroke-width="1"/>
<text x="30.46" y="246.65" font-size="10.50" font-weight="normal" fill="#111" textLength="18.00" lengthAdjust="spacingAndGlyphs">100</text>
<text x="36.67" y="269.44" font-size="10.50" font-weight="normal" fill="#111" textLength="12.00" lengthAdjust="spacingAndGlyphs">75</text>
<g clip-path="url(#tclip)">
<circle cx="51.40" cy="256.25" r="2.9" fill="#a0eea0" stroke="#1a7a1a" stroke-width="1.0"/>
<circle cx="79.62" cy="248.75" r="2.9" fill="#a0eea0" stroke="#1a7a1a" stroke-width="1.0"/>
<circle cx="107.85" cy="248.25" r="2.9" fill="#a0eea0" stroke="#1a7a1a" stroke-width="1.0"/>
<circle cx="136.08" cy="248.50" r="2.9" fill="#a0eea0" stroke="#1a7a1a" stroke-width="1.0"/>
<circle cx="164.30" cy="250.50" r="2.9" fill="#a0eea0" stroke="#1a7a1a" stroke-width="1.0"/>
<circle cx="192.53" cy="247.00" r="2.9" fill="#a0eea0" stroke="#1a7a1a" stroke-width="1.0"/>
<circle cx="220.75" cy="247.75" r="2.9" fill="#a0eea0" stroke="#1a7a1a" stroke-width="1.0"/>
<circle cx="248.98" cy="245.75" r="2.9" fill="#a0eea0" stroke="#1a7a1a" stroke-width="1.0"/>
<circle cx="277.20" cy="248.00" r="2.9" fill="#a0eea0" stroke="#1a7a1a" stroke-width="1.0"/>
<circle cx="305.43" cy="250.00" r="2.9" fill="#a0eea0" stroke="#1a7a1a" stroke-width="1.0"/>
<circle cx="333.65" cy="256.50" r="2.9" fill="#a0eea0" stroke="#1a7a1a" stroke-width="1.0"/>
<circle cx="361.88" cy="275.00" r="2.9" fill="#a0eea0" stroke="#1a7a1a" stroke-width="1.0"/>
<circle cx="390.10" cy="267.00" r="2.9" fill="#a0eea0" stroke="#1a7a1a" stroke-width="1.0"/>
<circle cx="418.32" cy="266.75" r="2.9" fill="#a0eea0" stroke="#1a7a1a" stroke-width="1.0"/>
<circle cx="446.55" cy="254.00" r="2.9" fill="#a0eea0" stroke="#1a7a1a" stroke-width="1.0"/>
<circle cx="474.77" cy="249.25" r="2.9" fill="#a0eea0" stroke="#1a7a1a" stroke-width="1.0"/>
<circle cx="503.00" cy="246.75" r="2.9" fill="#a0eea0" stroke="#1a7a1a" stroke-width="1.0"/>
<circle cx="531.23" cy="245.25" r="2.9" fill="#a0eea0" stroke="#1a7a1a" stroke-width="1.0"/>
<circle cx="559.45" cy="245.75" r="2.9" fill="#a0eea0" stroke="#1a7a1a" stroke-width="1.0"/>
<circle cx="587.67" cy="269.25" r="2.9" fill="#a0eea0" stroke="#1a7a1a" stroke-width="1.0"/>
<circle cx="615.90" cy="271.50" r="2.9" fill="#a0eea0" stroke="#1a7a1a" stroke-width="1.0"/>
<circle cx="644.12" cy="263.25" r="2.9" fill="#a0eea0" stroke="#1a7a1a" stroke-width="1.0"/>
<circle cx="672.35" cy="252.50" r="2.9" fill="#a0eea0" stroke="#1a7a1a" stroke-width="1.0"/>
<circle cx="700.58" cy="246.75" r="2.9" fill="#a0eea0" stroke="#1a7a1a" stroke-width="1.0"/>
<circle cx="728.80" cy="248.75" r="2.9" fill="#a0eea0" stroke="#1a7a1a" stroke-width="1.0"/>
<circle cx="757.02" cy="250.00" r="2.9" fill="#a0eea0" stroke="#1a7a1a" stroke-width="1.0"/>
<circle cx="785.25" cy="257.00" r="2.9" fill="#a0eea0" stroke="#1a7a1a" stroke-width="1.0"/>
<circle cx="813.48" cy="275.25" r="2.9" fill="#a0eea0" stroke="#1a7a1a" stroke-width="1.0"/>
<circle cx="841.70" cy="270.00" r="2.9" fill="#a0eea0" stroke="#1a7a1a" stroke-width="1.0"/>
<circle cx="869.93" cy="259.75" r="2.9" fill="#a0eea0" stroke="#1a7a1a" stroke-width="1.0"/>
<circle cx="898.15" cy="253.10" r="2.9" fill="#a0eea0" stroke="#1a7a1a" stroke-width="1.0"/>
<circle cx="926.38" cy="256.75" r="2.9" fill="#a0eea0" stroke="#1a7a1a" stroke-width="1.0"/>
<circle cx="954.60" cy="259.25" r="2.9" fill="#a0eea0" stroke="#1a7a1a" stroke-width="1.0"/>
<circle cx="982.83" cy="255.50" r="2.9" fill="#a0eea0" stroke="#1a7a1a" stroke-width="1.0"/>
<circle cx="1011.05" cy="258.00" r="2.9" fill="#a0eea0" stroke="#1a7a1a" stroke-width="1.0"/>
<circle cx="1039.28" cy="266.50" r="2.9" fill="#a0eea0" stroke="#1a7a1a" stroke-width="1.0"/>
<circle cx="1067.50" cy="274.50" r="2.9" fill="#a0eea0" stroke="#1a7a1a" stroke-width="1.0"/>
<circle cx="1095.73" cy="282.00" r="2.9" fill="#a0eea0" stroke="#1a7a1a" stroke-width="1.0"/>
<circle cx="1123.95" cy="275.75" r="2.9" fill="#a0eea0" stroke="#1a7a1a" stroke-width="1.0"/>
<circle cx="1152.18" cy="278.00" r="2.9" fill="#a0eea0" stroke="#1a7a1a" stroke-width="1.0"/>
<circle cx="1180.40" cy="277.50" r="2.9" fill="#a0eea0" stroke="#1a7a1a" stroke-width="1.0"/>
<polyline points="51.40,256.25 79.62,248.75 107.85,248.25 136.08,248.50 164.30,250.50 192.53,247.00 220.75,247.75 248.98,245.75 277.20,248.00 305.43,250.00 333.65,256.50 361.88,275.00 390.10,267.00 418.32,266.75 446.55,254.00 474.77,249.25 503.00,246.75 531.23,245.25 559.45,245.75 587.67,269.25 615.90,271.50 644.12,263.25 672.35,252.50 700.58,246.75 728.80,248.75 757.02,250.00 785.25,257.00 813.48,275.25 841.70,270.00 869.93,259.75 898.15,253.10 926.38,256.75 954.60,259.25 982.83,255.50 1011.05,258.00 1039.28,266.50 1067.50,274.50 1095.73,282.00 1123.95,275.75 1152.18,278.00 1180.40,277.50" fill="none" stroke="#218421" stroke-width="1.45" stroke-linejoin="round"/>
</g>
<text x="536.19" y="294.00" font-size="12.60" font-weight="bold" fill="#000" stroke="#000" stroke-width="0.25" textLength="126.00" lengthAdjust="spacingAndGlyphs">Άνεμος (Wind) [kt]</text>
<line x1="51.40" y1="319.50" x2="1180.40" y2="319.50" stroke="#a0a0a0" stroke-width="1" stroke-dasharray="2,2.15"/>
<line x1="51.50" y1="308.00" x2="51.50" y2="330.50" stroke="#8a8a8a" stroke-width="1"/>
<line x1="107.50" y1="308.00" x2="107.50" y2="330.50" stroke="#9a9a9a" stroke-width="1" stroke-dasharray="2,2.15"/>
<line x1="164.50" y1="308.00" x2="164.50" y2="330.50" stroke="#9a9a9a" stroke-width="1" stroke-dasharray="2,2.15"/>
<line x1="220.50" y1="308.00" x2="220.50" y2="330.50" stroke="#9a9a9a" stroke-width="1" stroke-dasharray="2,2.15"/>
<line x1="277.50" y1="308.00" x2="277.50" y2="330.50" stroke="#8a8a8a" stroke-width="1"/>
<line x1="333.50" y1="308.00" x2="333.50" y2="330.50" stroke="#9a9a9a" stroke-width="1" stroke-dasharray="2,2.15"/>
<line x1="390.50" y1="308.00" x2="390.50" y2="330.50" stroke="#9a9a9a" stroke-width="1" stroke-dasharray="2,2.15"/>
<line x1="446.50" y1="308.00" x2="446.50" y2="330.50" stroke="#9a9a9a" stroke-width="1" stroke-dasharray="2,2.15"/>
<line x1="503.50" y1="308.00" x2="503.50" y2="330.50" stroke="#8a8a8a" stroke-width="1"/>
<line x1="559.50" y1="308.00" x2="559.50" y2="330.50" stroke="#9a9a9a" stroke-width="1" stroke-dasharray="2,2.15"/>
<line x1="615.50" y1="308.00" x2="615.50" y2="330.50" stroke="#9a9a9a" stroke-width="1" stroke-dasharray="2,2.15"/>
<line x1="672.50" y1="308.00" x2="672.50" y2="330.50" stroke="#9a9a9a" stroke-width="1" stroke-dasharray="2,2.15"/>
<line x1="728.50" y1="308.00" x2="728.50" y2="330.50" stroke="#8a8a8a" stroke-width="1"/>
<line x1="785.50" y1="308.00" x2="785.50" y2="330.50" stroke="#9a9a9a" stroke-width="1" stroke-dasharray="2,2.15"/>
<line x1="841.50" y1="308.00" x2="841.50" y2="330.50" stroke="#9a9a9a" stroke-width="1" stroke-dasharray="2,2.15"/>
<line x1="898.50" y1="308.00" x2="898.50" y2="330.50" stroke="#9a9a9a" stroke-width="1" stroke-dasharray="2,2.15"/>
<line x1="954.50" y1="308.00" x2="954.50" y2="330.50" stroke="#8a8a8a" stroke-width="1"/>
<line x1="1011.50" y1="308.00" x2="1011.50" y2="330.50" stroke="#9a9a9a" stroke-width="1" stroke-dasharray="2,2.15"/>
<line x1="1067.50" y1="308.00" x2="1067.50" y2="330.50" stroke="#9a9a9a" stroke-width="1" stroke-dasharray="2,2.15"/>
<line x1="1123.50" y1="308.00" x2="1123.50" y2="330.50" stroke="#9a9a9a" stroke-width="1" stroke-dasharray="2,2.15"/>
<line x1="1180.50" y1="308.00" x2="1180.50" y2="330.50" stroke="#8a8a8a" stroke-width="1"/>
<path d="M51.40,319.25 L47.80,337.15 M48.47,333.79 L44.53,334.63" stroke="#000" stroke-width="1.6" fill="none" stroke-linecap="butt"/>
<text x="47.60" y="351.75" font-size="9.80" font-weight="normal" fill="#6a6a6a" textLength="6.00" lengthAdjust="spacingAndGlyphs">3</text>
<path d="M79.62,319.25 L89.62,334.25 M87.75,331.44 L85.56,334.82" stroke="#000" stroke-width="1.6" fill="none" stroke-linecap="butt"/>
<text x="75.83" y="351.75" font-size="9.80" font-weight="normal" fill="#6a6a6a" textLength="6.00" lengthAdjust="spacingAndGlyphs">3</text>
<path d="M107.85,319.25 L122.75,329.65 M119.96,327.70 L119.15,331.65" stroke="#000" stroke-width="1.6" fill="none" stroke-linecap="butt"/>
<text x="104.05" y="351.75" font-size="9.80" font-weight="normal" fill="#6a6a6a" textLength="6.00" lengthAdjust="spacingAndGlyphs">5</text>
<path d="M136.08,319.25 L152.33,328.50 M149.28,326.77 L148.84,330.77" stroke="#000" stroke-width="1.6" fill="none" stroke-linecap="butt"/>
<text x="132.28" y="351.75" font-size="9.80" font-weight="normal" fill="#6a6a6a" textLength="6.00" lengthAdjust="spacingAndGlyphs">7</text>
<path d="M164.30,319.25 L181.05,327.50 M181.05,327.50 L180.65,335.55" stroke="#000" stroke-width="1.6" fill="none" stroke-linecap="butt"/>
<text x="160.50" y="351.75" font-size="9.80" font-weight="normal" fill="#6a6a6a" textLength="6.00" lengthAdjust="spacingAndGlyphs">9</text>
<path d="M192.53,319.25 L207.28,307.35 M207.28,307.35 L214.41,311.10" stroke="#000" stroke-width="1.6" fill="none" stroke-linecap="butt"/>
<text x="185.72" y="351.75" font-size="9.80" font-weight="normal" fill="#6a6a6a" textLength="12.00" lengthAdjust="spacingAndGlyphs">12</text>
<path d="M220.75,319.25 L232.00,303.75 M232.00,303.75 L239.87,305.51 M230.01,306.50 L233.94,307.38" stroke="#000" stroke-width="1.6" fill="none" stroke-linecap="butt"/>
<text x="213.95" y="351.75" font-size="9.80" font-weight="normal" fill="#6a6a6a" textLength="12.00" lengthAdjust="spacingAndGlyphs">17</text>
<path d="M248.98,319.25 L258.23,302.00 M258.23,302.00 L266.26,302.68 M256.60,305.04 L260.61,305.38" stroke="#000" stroke-width="1.6" fill="none" stroke-linecap="butt"/>
<text x="242.18" y="351.75" font-size="9.80" font-weight="normal" fill="#6a6a6a" textLength="12.00" lengthAdjust="spacingAndGlyphs">13</text>
<path d="M277.20,319.25 L269.95,301.25 M271.31,304.62 L274.14,301.76" stroke="#000" stroke-width="1.6" fill="none" stroke-linecap="butt"/>
<text x="273.40" y="351.75" font-size="9.80" font-weight="normal" fill="#6a6a6a" textLength="6.00" lengthAdjust="spacingAndGlyphs">6</text>
<path d="M305.43,319.25 L297.43,336.75 M297.43,336.75 L289.36,336.58" stroke="#000" stroke-width="1.6" fill="none" stroke-linecap="butt"/>
<text x="301.62" y="351.75" font-size="9.80" font-weight="normal" fill="#6a6a6a" textLength="6.00" lengthAdjust="spacingAndGlyphs">8</text>
<path d="M333.65,319.25 L324.65,335.75 M324.65,335.75 L316.62,335.02 M326.25,332.81 L322.24,332.44" stroke="#000" stroke-width="1.6" fill="none" stroke-linecap="butt"/>
<text x="326.85" y="351.75" font-size="9.80" font-weight="normal" fill="#6a6a6a" textLength="12.00" lengthAdjust="spacingAndGlyphs">13</text>
<path d="M361.88,319.25 L353.38,336.25 M353.38,336.25 L345.33,335.80 M354.88,333.23 L350.86,333.01" stroke="#000" stroke-width="1.6" fill="none" stroke-linecap="butt"/>
<text x="355.07" y="351.75" font-size="9.80" font-weight="normal" fill="#6a6a6a" textLength="12.00" lengthAdjust="spacingAndGlyphs">13</text>
<path d="M390.10,319.25 L387.10,337.50 M387.10,337.50 L379.28,339.46 M387.64,334.23 L383.73,335.21" stroke="#000" stroke-width="1.6" fill="none" stroke-linecap="butt"/>
<text x="383.30" y="351.75" font-size="9.80" font-weight="normal" fill="#6a6a6a" textLength="12.00" lengthAdjust="spacingAndGlyphs">15</text>
<path d="M418.32,319.25 L413.82,337.50 M413.82,337.50 L405.87,338.84" stroke="#000" stroke-width="1.6" fill="none" stroke-linecap="butt"/>
<text x="411.52" y="351.75" font-size="9.80" font-weight="normal" fill="#6a6a6a" textLength="12.00" lengthAdjust="spacingAndGlyphs">12</text>
<path d="M446.55,319.25 L437.55,335.25 M439.24,332.25 L435.23,331.83" stroke="#000" stroke-width="1.6" fill="none" stroke-linecap="butt"/>
<text x="442.75" y="351.75" font-size="9.80" font-weight="normal" fill="#6a6a6a" textLength="6.00" lengthAdjust="spacingAndGlyphs">7</text>
<path d="M474.77,319.25 L460.27,330.00 M462.99,327.98 L459.50,325.97" stroke="#000" stroke-width="1.6" fill="none" stroke-linecap="butt"/>
<text x="470.97" y="351.75" font-size="9.80" font-weight="normal" fill="#6a6a6a" textLength="6.00" lengthAdjust="spacingAndGlyphs">5</text>
<path d="M503.00,319.25 L485.00,325.75 M488.38,324.53 L485.61,321.59" stroke="#000" stroke-width="1.6" fill="none" stroke-linecap="butt"/>
<text x="499.20" y="351.75" font-size="9.80" font-weight="normal" fill="#6a6a6a" textLength="6.00" lengthAdjust="spacingAndGlyphs">3</text>
<line x1="531.23" y1="319.25" x2="512.48" y2="318.00" stroke="#000" stroke-width="1.6"/>
<circle cx="531.23" cy="319.25" r="2" fill="#000"/>
<text x="527.43" y="351.75" font-size="9.80" font-weight="normal" fill="#6a6a6a" textLength="6.00" lengthAdjust="spacingAndGlyphs">2</text>
<line x1="559.45" y1="319.25" x2="545.70" y2="306.25" stroke="#000" stroke-width="1.6"/>
<circle cx="559.45" cy="319.25" r="2" fill="#000"/>
<text x="555.65" y="351.75" font-size="9.80" font-weight="normal" fill="#6a6a6a" textLength="6.00" lengthAdjust="spacingAndGlyphs">2</text>
<path d="M587.67,319.25 L602.17,328.75 M599.46,326.97 L598.77,330.94" stroke="#000" stroke-width="1.6" fill="none" stroke-linecap="butt"/>
<text x="583.88" y="351.75" font-size="9.80" font-weight="normal" fill="#6a6a6a" textLength="6.00" lengthAdjust="spacingAndGlyphs">3</text>
<path d="M615.90,319.25 L625.90,335.00 M624.02,332.05 L621.76,335.38" stroke="#000" stroke-width="1.6" fill="none" stroke-linecap="butt"/>
<text x="612.10" y="351.75" font-size="9.80" font-weight="normal" fill="#6a6a6a" textLength="6.00" lengthAdjust="spacingAndGlyphs">4</text>
<line x1="644.12" y1="319.25" x2="661.62" y2="313.00" stroke="#000" stroke-width="1.6"/>
<circle cx="644.12" cy="319.25" r="2" fill="#000"/>
<text x="640.33" y="351.75" font-size="9.80" font-weight="normal" fill="#6a6a6a" textLength="6.00" lengthAdjust="spacingAndGlyphs">2</text>
<line x1="672.35" y1="319.25" x2="669.10" y2="301.00" stroke="#000" stroke-width="1.6"/>
<circle cx="672.35" cy="319.25" r="2" fill="#000"/>
<text x="668.55" y="351.75" font-size="9.80" font-weight="normal" fill="#6a6a6a" textLength="6.00" lengthAdjust="spacingAndGlyphs">1</text>
<line x1="700.58" y1="319.25" x2="689.08" y2="304.75" stroke="#000" stroke-width="1.6"/>
<circle cx="700.58" cy="319.25" r="2" fill="#000"/>
<text x="696.78" y="351.75" font-size="9.80" font-weight="normal" fill="#6a6a6a" textLength="6.00" lengthAdjust="spacingAndGlyphs">2</text>
<path d="M728.80,319.25 L715.30,306.50 M717.83,308.89 L719.21,305.10" stroke="#000" stroke-width="1.6" fill="none" stroke-linecap="butt"/>
<text x="725.00" y="351.75" font-size="9.80" font-weight="normal" fill="#6a6a6a" textLength="6.00" lengthAdjust="spacingAndGlyphs">3</text>
<path d="M757.02,319.25 L744.02,306.25 M746.46,308.69 L747.95,304.94" stroke="#000" stroke-width="1.6" fill="none" stroke-linecap="butt"/>
<text x="753.23" y="351.75" font-size="9.80" font-weight="normal" fill="#6a6a6a" textLength="6.00" lengthAdjust="spacingAndGlyphs">5</text>
<path d="M785.25,319.25 L772.75,305.00 M775.09,307.67 L776.82,304.03" stroke="#000" stroke-width="1.6" fill="none" stroke-linecap="butt"/>
<text x="781.45" y="351.75" font-size="9.80" font-weight="normal" fill="#6a6a6a" textLength="6.00" lengthAdjust="spacingAndGlyphs">5</text>
<path d="M813.48,319.25 L806.73,301.25 M807.99,304.62 L810.89,301.83" stroke="#000" stroke-width="1.6" fill="none" stroke-linecap="butt"/>
<text x="809.68" y="351.75" font-size="9.80" font-weight="normal" fill="#6a6a6a" textLength="6.00" lengthAdjust="spacingAndGlyphs">6</text>
<path d="M841.70,319.25 L842.70,300.50 M842.51,304.02 L846.29,302.61" stroke="#000" stroke-width="1.6" fill="none" stroke-linecap="butt"/>
<text x="837.90" y="351.75" font-size="9.80" font-weight="normal" fill="#6a6a6a" textLength="6.00" lengthAdjust="spacingAndGlyphs">4</text>
<line x1="869.93" y1="319.25" x2="885.93" y2="310.00" stroke="#000" stroke-width="1.6"/>
<circle cx="869.93" cy="319.25" r="2" fill="#000"/>
<text x="866.13" y="351.75" font-size="9.80" font-weight="normal" fill="#6a6a6a" textLength="6.00" lengthAdjust="spacingAndGlyphs">2</text>
<circle cx="898.15" cy="319.25" r="2" fill="#000"/>
<text x="894.35" y="351.75" font-size="9.80" font-weight="normal" fill="#6a6a6a" textLength="6.00" lengthAdjust="spacingAndGlyphs">1</text>
<path d="M926.38,319.25 L911.88,307.75 M914.59,309.91 L915.64,306.01" stroke="#000" stroke-width="1.6" fill="none" stroke-linecap="butt"/>
<text x="922.58" y="351.75" font-size="9.80" font-weight="normal" fill="#6a6a6a" textLength="6.00" lengthAdjust="spacingAndGlyphs">4</text>
<path d="M954.60,319.25 L944.85,303.75 M946.68,306.66 L948.96,303.33" stroke="#000" stroke-width="1.6" fill="none" stroke-linecap="butt"/>
<text x="950.80" y="351.75" font-size="9.80" font-weight="normal" fill="#6a6a6a" textLength="6.00" lengthAdjust="spacingAndGlyphs">6</text>
<path d="M982.83,319.25 L972.33,302.25 M972.33,302.25 L976.94,295.64" stroke="#000" stroke-width="1.6" fill="none" stroke-linecap="butt"/>
<text x="979.03" y="351.75" font-size="9.80" font-weight="normal" fill="#6a6a6a" textLength="6.00" lengthAdjust="spacingAndGlyphs">9</text>
<path d="M1011.05,319.25 L1004.30,301.25 M1004.30,301.25 L1010.11,295.66" stroke="#000" stroke-width="1.6" fill="none" stroke-linecap="butt"/>
<text x="1007.25" y="351.75" font-size="9.80" font-weight="normal" fill="#6a6a6a" textLength="6.00" lengthAdjust="spacingAndGlyphs">9</text>
<path d="M1039.28,319.25 L1041.03,301.25 M1041.03,301.25 L1048.70,298.78 M1040.71,304.50 L1044.55,303.26" stroke="#000" stroke-width="1.6" fill="none" stroke-linecap="butt"/>
<text x="1032.48" y="351.75" font-size="9.80" font-weight="normal" fill="#6a6a6a" textLength="12.00" lengthAdjust="spacingAndGlyphs">13</text>
<path d="M1067.50,319.25 L1069.75,301.25 M1069.75,301.25 L1077.49,298.99 M1069.34,304.49 L1073.21,303.36" stroke="#000" stroke-width="1.6" fill="none" stroke-linecap="butt"/>
<text x="1060.70" y="351.75" font-size="9.80" font-weight="normal" fill="#6a6a6a" textLength="12.00" lengthAdjust="spacingAndGlyphs">13</text>
<path d="M1095.73,319.25 L1097.98,300.25 M1097.98,300.25 L1105.70,297.94" stroke="#000" stroke-width="1.6" fill="none" stroke-linecap="butt"/>
<text x="1088.93" y="351.75" font-size="9.80" font-weight="normal" fill="#6a6a6a" textLength="12.00" lengthAdjust="spacingAndGlyphs">12</text>
<path d="M1123.95,319.25 L1114.20,303.00 M1116.03,306.05 L1118.38,302.77" stroke="#000" stroke-width="1.6" fill="none" stroke-linecap="butt"/>
<text x="1120.15" y="351.75" font-size="9.80" font-weight="normal" fill="#6a6a6a" textLength="6.00" lengthAdjust="spacingAndGlyphs">7</text>
<path d="M1152.18,319.25 L1141.18,303.75 M1143.24,306.66 L1145.33,303.21" stroke="#000" stroke-width="1.6" fill="none" stroke-linecap="butt"/>
<text x="1148.38" y="351.75" font-size="9.80" font-weight="normal" fill="#6a6a6a" textLength="6.00" lengthAdjust="spacingAndGlyphs">7</text>
<path d="M1180.40,319.25 L1168.65,304.25 M1170.85,307.06 L1172.78,303.52" stroke="#000" stroke-width="1.6" fill="none" stroke-linecap="butt"/>
<text x="1176.60" y="351.75" font-size="9.80" font-weight="normal" fill="#6a6a6a" textLength="6.00" lengthAdjust="spacingAndGlyphs">7</text>
<text x="501.70" y="380.70" font-size="12.60" font-weight="bold" fill="#55557a" stroke="#55557a" stroke-width="0.25" textLength="198.00" lengthAdjust="spacingAndGlyphs">Ριπή Ανέμου (Wind Gust) [kt]</text>
<line x1="51.40" y1="393.50" x2="1180.40" y2="393.50" stroke="#bcbcbc" stroke-width="1" stroke-dasharray="2,2.15"/>
<line x1="51.40" y1="404.50" x2="1180.40" y2="404.50" stroke="#bcbcbc" stroke-width="1" stroke-dasharray="2,2.15"/>
<line x1="51.40" y1="414.50" x2="1180.40" y2="414.50" stroke="#bcbcbc" stroke-width="1" stroke-dasharray="2,2.15"/>
<line x1="51.40" y1="424.50" x2="1180.40" y2="424.50" stroke="#bcbcbc" stroke-width="1" stroke-dasharray="2,2.15"/>
<line x1="107.50" y1="385.30" x2="107.50" y2="424.50" stroke="#9a9a9a" stroke-width="1" stroke-dasharray="2,2.15"/>
<line x1="164.50" y1="385.30" x2="164.50" y2="424.50" stroke="#9a9a9a" stroke-width="1" stroke-dasharray="2,2.15"/>
<line x1="220.50" y1="385.30" x2="220.50" y2="424.50" stroke="#9a9a9a" stroke-width="1" stroke-dasharray="2,2.15"/>
<line x1="277.50" y1="385.30" x2="277.50" y2="424.50" stroke="#8a8a8a" stroke-width="1"/>
<line x1="333.50" y1="385.30" x2="333.50" y2="424.50" stroke="#9a9a9a" stroke-width="1" stroke-dasharray="2,2.15"/>
<line x1="390.50" y1="385.30" x2="390.50" y2="424.50" stroke="#9a9a9a" stroke-width="1" stroke-dasharray="2,2.15"/>
<line x1="446.50" y1="385.30" x2="446.50" y2="424.50" stroke="#9a9a9a" stroke-width="1" stroke-dasharray="2,2.15"/>
<line x1="503.50" y1="385.30" x2="503.50" y2="424.50" stroke="#8a8a8a" stroke-width="1"/>
<line x1="559.50" y1="385.30" x2="559.50" y2="424.50" stroke="#9a9a9a" stroke-width="1" stroke-dasharray="2,2.15"/>
<line x1="615.50" y1="385.30" x2="615.50" y2="424.50" stroke="#9a9a9a" stroke-width="1" stroke-dasharray="2,2.15"/>
<line x1="672.50" y1="385.30" x2="672.50" y2="424.50" stroke="#9a9a9a" stroke-width="1" stroke-dasharray="2,2.15"/>
<line x1="728.50" y1="385.30" x2="728.50" y2="424.50" stroke="#8a8a8a" stroke-width="1"/>
<line x1="785.50" y1="385.30" x2="785.50" y2="424.50" stroke="#9a9a9a" stroke-width="1" stroke-dasharray="2,2.15"/>
<line x1="841.50" y1="385.30" x2="841.50" y2="424.50" stroke="#9a9a9a" stroke-width="1" stroke-dasharray="2,2.15"/>
<line x1="898.50" y1="385.30" x2="898.50" y2="424.50" stroke="#9a9a9a" stroke-width="1" stroke-dasharray="2,2.15"/>
<line x1="954.50" y1="385.30" x2="954.50" y2="424.50" stroke="#8a8a8a" stroke-width="1"/>
<line x1="1011.50" y1="385.30" x2="1011.50" y2="424.50" stroke="#9a9a9a" stroke-width="1" stroke-dasharray="2,2.15"/>
<line x1="1067.50" y1="385.30" x2="1067.50" y2="424.50" stroke="#9a9a9a" stroke-width="1" stroke-dasharray="2,2.15"/>
<line x1="1123.50" y1="385.30" x2="1123.50" y2="424.50" stroke="#9a9a9a" stroke-width="1" stroke-dasharray="2,2.15"/>
<line x1="1180.50" y1="385.30" x2="1180.50" y2="424.50" stroke="#8a8a8a" stroke-width="1"/>
<line x1="51.5" y1="385.3" x2="51.5" y2="425.2" stroke="#606060" stroke-width="1.2"/>
<text x="29.76" y="396.94" font-size="10.50" font-weight="normal" fill="#111" textLength="12.00" lengthAdjust="spacingAndGlyphs">30</text>
<text x="29.76" y="407.04" font-size="10.50" font-weight="normal" fill="#111" textLength="12.00" lengthAdjust="spacingAndGlyphs">20</text>
<text x="29.76" y="417.04" font-size="10.50" font-weight="normal" fill="#111" textLength="12.00" lengthAdjust="spacingAndGlyphs">10</text>
<text x="35.76" y="427.64" font-size="10.50" font-weight="normal" fill="#111" textLength="6.00" lengthAdjust="spacingAndGlyphs">0</text>
<rect x="99.60" y="408.00" width="16.5" height="17.10" fill="#a6a6f7"/>
<rect x="156.05" y="396.25" width="16.5" height="28.85" fill="#a6a6f7"/>
<rect x="212.50" y="387.00" width="16.5" height="38.10" fill="#a6a6f7"/>
<rect x="268.95" y="386.00" width="16.5" height="39.10" fill="#a6a6f7"/>
<rect x="325.40" y="394.25" width="16.5" height="30.85" fill="#a6a6f7"/>
<rect x="381.85" y="385.00" width="16.5" height="40.10" fill="#a6a6f7"/>
<rect x="438.30" y="389.25" width="16.5" height="35.85" fill="#a6a6f7"/>
<rect x="494.75" y="408.00" width="16.5" height="17.10" fill="#a6a6f7"/>
<rect x="551.20" y="415.00" width="16.5" height="10.10" fill="#a6a6f7"/>
<rect x="607.65" y="408.00" width="16.5" height="17.10" fill="#a6a6f7"/>
<rect x="664.10" y="411.50" width="16.5" height="13.60" fill="#a6a6f7"/>
<rect x="720.55" y="416.00" width="16.5" height="9.10" fill="#a6a6f7"/>
<rect x="777.00" y="410.75" width="16.5" height="14.35" fill="#a6a6f7"/>
<rect x="833.45" y="403.75" width="16.5" height="21.35" fill="#a6a6f7"/>
<rect x="889.90" y="409.80" width="16.5" height="15.30" fill="#a6a6f7"/>
<rect x="946.35" y="409.00" width="16.5" height="16.10" fill="#a6a6f7"/>
<rect x="1002.80" y="402.90" width="16.5" height="22.20" fill="#a6a6f7"/>
<rect x="1059.25" y="393.00" width="16.5" height="32.10" fill="#a6a6f7"/>
<rect x="1115.70" y="394.90" width="16.5" height="30.20" fill="#a6a6f7"/>
<rect x="1172.15" y="406.80" width="16.5" height="18.30" fill="#a6a6f7"/>
<text x="243.77" y="452.60" font-size="12.60" font-weight="bold" fill="#f07020" stroke="#f07020" stroke-width="0.25" textLength="220.00" lengthAdjust="spacingAndGlyphs">Χαμηλή Νέφωση (Low Cloud) [%]</text>
<text x="467.77" y="452.60" font-size="12.60" font-weight="bold" fill="#000" stroke="#000" stroke-width="0.25" textLength="5.00" lengthAdjust="spacingAndGlyphs">-</text>
<text x="476.77" y="452.60" font-size="12.60" font-weight="bold" fill="#800080" stroke="#800080" stroke-width="0.25" textLength="245.00" lengthAdjust="spacingAndGlyphs">Μεσαία Νέφωση (Medium Cloud) [%]</text>
<text x="725.77" y="452.60" font-size="12.60" font-weight="bold" fill="#000" stroke="#000" stroke-width="0.25" textLength="5.00" lengthAdjust="spacingAndGlyphs">-</text>
<text x="734.77" y="452.60" font-size="12.60" font-weight="bold" fill="#7a9a10" stroke="#7a9a10" stroke-width="0.25" textLength="218.00" lengthAdjust="spacingAndGlyphs">Υψηλή Νέφωση (High Cloud) [%]</text>
<line x1="51.40" y1="564.50" x2="1180.40" y2="564.50" stroke="#bcbcbc" stroke-width="1" stroke-dasharray="2,2.15"/>
<line x1="51.40" y1="543.50" x2="1180.40" y2="543.50" stroke="#bcbcbc" stroke-width="1" stroke-dasharray="2,2.15"/>
<line x1="51.40" y1="521.50" x2="1180.40" y2="521.50" stroke="#bcbcbc" stroke-width="1" stroke-dasharray="2,2.15"/>
<line x1="51.40" y1="500.50" x2="1180.40" y2="500.50" stroke="#bcbcbc" stroke-width="1" stroke-dasharray="2,2.15"/>
<line x1="51.40" y1="479.50" x2="1180.40" y2="479.50" stroke="#bcbcbc" stroke-width="1" stroke-dasharray="2,2.15"/>
<line x1="51.40" y1="458.50" x2="1180.40" y2="458.50" stroke="#bcbcbc" stroke-width="1" stroke-dasharray="2,2.15"/>
<line x1="51.50" y1="458.00" x2="51.50" y2="565.00" stroke="#8a8a8a" stroke-width="1"/>
<line x1="107.50" y1="458.00" x2="107.50" y2="565.00" stroke="#9a9a9a" stroke-width="1" stroke-dasharray="2,2.15"/>
<line x1="164.50" y1="458.00" x2="164.50" y2="565.00" stroke="#9a9a9a" stroke-width="1" stroke-dasharray="2,2.15"/>
<line x1="220.50" y1="458.00" x2="220.50" y2="565.00" stroke="#9a9a9a" stroke-width="1" stroke-dasharray="2,2.15"/>
<line x1="277.50" y1="458.00" x2="277.50" y2="565.00" stroke="#8a8a8a" stroke-width="1"/>
<line x1="333.50" y1="458.00" x2="333.50" y2="565.00" stroke="#9a9a9a" stroke-width="1" stroke-dasharray="2,2.15"/>
<line x1="390.50" y1="458.00" x2="390.50" y2="565.00" stroke="#9a9a9a" stroke-width="1" stroke-dasharray="2,2.15"/>
<line x1="446.50" y1="458.00" x2="446.50" y2="565.00" stroke="#9a9a9a" stroke-width="1" stroke-dasharray="2,2.15"/>
<line x1="503.50" y1="458.00" x2="503.50" y2="565.00" stroke="#8a8a8a" stroke-width="1"/>
<line x1="559.50" y1="458.00" x2="559.50" y2="565.00" stroke="#9a9a9a" stroke-width="1" stroke-dasharray="2,2.15"/>
<line x1="615.50" y1="458.00" x2="615.50" y2="565.00" stroke="#9a9a9a" stroke-width="1" stroke-dasharray="2,2.15"/>
<line x1="672.50" y1="458.00" x2="672.50" y2="565.00" stroke="#9a9a9a" stroke-width="1" stroke-dasharray="2,2.15"/>
<line x1="728.50" y1="458.00" x2="728.50" y2="565.00" stroke="#8a8a8a" stroke-width="1"/>
<line x1="785.50" y1="458.00" x2="785.50" y2="565.00" stroke="#9a9a9a" stroke-width="1" stroke-dasharray="2,2.15"/>
<line x1="841.50" y1="458.00" x2="841.50" y2="565.00" stroke="#9a9a9a" stroke-width="1" stroke-dasharray="2,2.15"/>
<line x1="898.50" y1="458.00" x2="898.50" y2="565.00" stroke="#9a9a9a" stroke-width="1" stroke-dasharray="2,2.15"/>
<line x1="954.50" y1="458.00" x2="954.50" y2="565.00" stroke="#8a8a8a" stroke-width="1"/>
<line x1="1011.50" y1="458.00" x2="1011.50" y2="565.00" stroke="#9a9a9a" stroke-width="1" stroke-dasharray="2,2.15"/>
<line x1="1067.50" y1="458.00" x2="1067.50" y2="565.00" stroke="#9a9a9a" stroke-width="1" stroke-dasharray="2,2.15"/>
<line x1="1123.50" y1="458.00" x2="1123.50" y2="565.00" stroke="#9a9a9a" stroke-width="1" stroke-dasharray="2,2.15"/>
<line x1="1180.50" y1="458.00" x2="1180.50" y2="565.00" stroke="#8a8a8a" stroke-width="1"/>
<text x="23.76" y="461.64" font-size="10.50" font-weight="normal" fill="#111" textLength="18.00" lengthAdjust="spacingAndGlyphs">100</text>
<text x="29.76" y="482.94" font-size="10.50" font-weight="normal" fill="#111" textLength="12.00" lengthAdjust="spacingAndGlyphs">80</text>
<text x="29.76" y="504.25" font-size="10.50" font-weight="normal" fill="#111" textLength="12.00" lengthAdjust="spacingAndGlyphs">60</text>
<text x="29.76" y="525.54" font-size="10.50" font-weight="normal" fill="#111" textLength="12.00" lengthAdjust="spacingAndGlyphs">40</text>
<text x="29.76" y="546.85" font-size="10.50" font-weight="normal" fill="#111" textLength="12.00" lengthAdjust="spacingAndGlyphs">20</text>
<text x="35.76" y="568.14" font-size="10.50" font-weight="normal" fill="#111" textLength="6.00" lengthAdjust="spacingAndGlyphs">0</text>
<rect x="385.70" y="496.07" width="8.8" height="69.33" fill="#7aa400"/>
<rect x="413.93" y="468.01" width="8.8" height="97.39" fill="#7aa400"/>
<rect x="442.15" y="464.50" width="8.8" height="100.90" fill="#7aa400"/>
<rect x="470.38" y="464.92" width="8.8" height="100.48" fill="#7aa400"/>
<rect x="611.50" y="461.94" width="8.8" height="103.46" fill="#7aa400"/>
<rect x="667.95" y="461.19" width="8.8" height="104.20" fill="#7aa400"/>
<rect x="837.30" y="503.58" width="8.8" height="61.82" fill="#7aa400"/>
<rect x="865.53" y="525.95" width="8.8" height="39.45" fill="#7aa400"/>
<rect x="950.20" y="463.01" width="8.8" height="102.39" fill="#7aa400"/>
<rect x="44.95" y="458.00" width="12.9" height="107.40" fill="#800080"/>
<rect x="73.17" y="458.00" width="12.9" height="107.40" fill="#800080"/>
<rect x="129.63" y="458.00" width="12.9" height="107.40" fill="#800080"/>
<rect x="157.85" y="458.00" width="12.9" height="107.40" fill="#800080"/>
<rect x="327.20" y="463.75" width="12.9" height="101.65" fill="#800080"/>
<rect x="355.43" y="471.21" width="12.9" height="94.19" fill="#800080"/>
<rect x="581.22" y="468.01" width="12.9" height="97.39" fill="#800080"/>
<rect x="609.45" y="492.83" width="12.9" height="72.57" fill="#800080"/>
<rect x="637.67" y="508.06" width="12.9" height="57.34" fill="#800080"/>
<rect x="665.90" y="543.63" width="12.9" height="21.77" fill="#800080"/>
<rect x="694.12" y="458.00" width="12.9" height="107.40" fill="#800080"/>
<rect x="778.80" y="555.02" width="12.9" height="10.38" fill="#800080"/>
<rect x="835.25" y="529.67" width="12.9" height="35.73" fill="#800080"/>
<rect x="948.15" y="534.68" width="12.9" height="30.72" fill="#800080"/>
<rect x="43.05" y="549.06" width="16.7" height="16.34" fill="#ff6600"/>
<rect x="71.28" y="496.07" width="16.7" height="69.33" fill="#ff6600"/>
<rect x="99.50" y="458.00" width="16.7" height="107.40" fill="#ff6600"/>
<rect x="127.73" y="478.24" width="16.7" height="87.16" fill="#ff6600"/>
<rect x="155.95" y="494.85" width="16.7" height="70.55" fill="#ff6600"/>
<rect x="184.18" y="458.00" width="16.7" height="107.40" fill="#ff6600"/>
<rect x="212.40" y="458.00" width="16.7" height="107.40" fill="#ff6600"/>
<rect x="240.63" y="458.00" width="16.7" height="107.40" fill="#ff6600"/>
<rect x="268.85" y="459.06" width="16.7" height="106.33" fill="#ff6600"/>
<rect x="297.07" y="463.75" width="16.7" height="101.65" fill="#ff6600"/>
<rect x="325.30" y="538.94" width="16.7" height="26.46" fill="#ff6600"/>
<rect x="353.52" y="545.33" width="16.7" height="20.07" fill="#ff6600"/>
<rect x="381.75" y="505.82" width="16.7" height="59.58" fill="#ff6600"/>
<rect x="409.97" y="543.31" width="16.7" height="22.09" fill="#ff6600"/>
<rect x="438.20" y="548.58" width="16.7" height="16.82" fill="#ff6600"/>
<rect x="466.42" y="552.57" width="16.7" height="12.83" fill="#ff6600"/>
<rect x="494.65" y="491.87" width="16.7" height="73.53" fill="#ff6600"/>
<rect x="522.88" y="463.01" width="16.7" height="102.39" fill="#ff6600"/>
<rect x="551.10" y="510.72" width="16.7" height="54.68" fill="#ff6600"/>
<rect x="579.32" y="540.11" width="16.7" height="25.29" fill="#ff6600"/>
<rect x="607.55" y="542.56" width="16.7" height="22.84" fill="#ff6600"/>
<rect x="635.77" y="530.21" width="16.7" height="35.19" fill="#ff6600"/>
<rect x="664.00" y="559.49" width="16.7" height="5.91" fill="#ff6600"/>
<rect x="692.23" y="523.18" width="16.7" height="42.22" fill="#ff6600"/>
<rect x="720.45" y="545.12" width="16.7" height="20.28" fill="#ff6600"/>
<rect x="748.67" y="552.78" width="16.7" height="12.62" fill="#ff6600"/>
<rect x="776.90" y="562.48" width="16.7" height="2.92" fill="#ff6600"/>
<rect x="805.12" y="535.85" width="16.7" height="29.55" fill="#ff6600"/>
<rect x="833.35" y="541.60" width="16.7" height="23.80" fill="#ff6600"/>
<rect x="861.58" y="543.31" width="16.7" height="22.09" fill="#ff6600"/>
<rect x="889.80" y="559.49" width="16.7" height="5.91" fill="#ff6600"/>
<rect x="918.02" y="543.31" width="16.7" height="22.09" fill="#ff6600"/>
<rect x="946.25" y="544.58" width="16.7" height="20.82" fill="#ff6600"/>
<rect x="974.48" y="514.76" width="16.7" height="50.64" fill="#ff6600"/>
<rect x="1002.70" y="522.22" width="16.7" height="43.18" fill="#ff6600"/>
<rect x="1030.93" y="522.97" width="16.7" height="42.43" fill="#ff6600"/>
<rect x="1059.15" y="539.58" width="16.7" height="25.82" fill="#ff6600"/>
<rect x="1087.38" y="560.24" width="16.7" height="5.16" fill="#ff6600"/>
<text x="466.00" y="594.90" font-size="12.60" font-weight="bold" fill="#0a0a6e" stroke="#0a0a6e" stroke-width="0.25" textLength="127.00" lengthAdjust="spacingAndGlyphs">Βροχή (Rain) [mm]</text>
<text x="597.00" y="594.90" font-size="12.60" font-weight="bold" fill="#000" stroke="#000" stroke-width="0.25" textLength="5.00" lengthAdjust="spacingAndGlyphs">-</text>
<text x="606.00" y="594.90" font-size="12.60" font-weight="bold" fill="#22a0e0" stroke="#22a0e0" stroke-width="0.25" textLength="126.00" lengthAdjust="spacingAndGlyphs">Χιόνι (Snow) [mm]</text>
<line x1="51.40" y1="709.50" x2="1180.40" y2="709.50" stroke="#bcbcbc" stroke-width="1" stroke-dasharray="2,2.15"/>
<line x1="51.40" y1="686.50" x2="1180.40" y2="686.50" stroke="#bcbcbc" stroke-width="1" stroke-dasharray="2,2.15"/>
<line x1="51.40" y1="664.50" x2="1180.40" y2="664.50" stroke="#bcbcbc" stroke-width="1" stroke-dasharray="2,2.15"/>
<line x1="51.40" y1="641.50" x2="1180.40" y2="641.50" stroke="#bcbcbc" stroke-width="1" stroke-dasharray="2,2.15"/>
<line x1="51.40" y1="619.50" x2="1180.40" y2="619.50" stroke="#bcbcbc" stroke-width="1" stroke-dasharray="2,2.15"/>
<line x1="51.40" y1="597.50" x2="1180.40" y2="597.50" stroke="#bcbcbc" stroke-width="1" stroke-dasharray="2,2.15"/>
<line x1="51.50" y1="597.00" x2="51.50" y2="709.75" stroke="#8a8a8a" stroke-width="1"/>
<line x1="107.50" y1="597.00" x2="107.50" y2="709.75" stroke="#9a9a9a" stroke-width="1" stroke-dasharray="2,2.15"/>
<line x1="164.50" y1="597.00" x2="164.50" y2="709.75" stroke="#9a9a9a" stroke-width="1" stroke-dasharray="2,2.15"/>
<line x1="220.50" y1="597.00" x2="220.50" y2="709.75" stroke="#9a9a9a" stroke-width="1" stroke-dasharray="2,2.15"/>
<line x1="277.50" y1="597.00" x2="277.50" y2="709.75" stroke="#8a8a8a" stroke-width="1"/>
<line x1="333.50" y1="597.00" x2="333.50" y2="709.75" stroke="#9a9a9a" stroke-width="1" stroke-dasharray="2,2.15"/>
<line x1="390.50" y1="597.00" x2="390.50" y2="709.75" stroke="#9a9a9a" stroke-width="1" stroke-dasharray="2,2.15"/>
<line x1="446.50" y1="597.00" x2="446.50" y2="709.75" stroke="#9a9a9a" stroke-width="1" stroke-dasharray="2,2.15"/>
<line x1="503.50" y1="597.00" x2="503.50" y2="709.75" stroke="#8a8a8a" stroke-width="1"/>
<line x1="559.50" y1="597.00" x2="559.50" y2="709.75" stroke="#9a9a9a" stroke-width="1" stroke-dasharray="2,2.15"/>
<line x1="615.50" y1="597.00" x2="615.50" y2="709.75" stroke="#9a9a9a" stroke-width="1" stroke-dasharray="2,2.15"/>
<line x1="672.50" y1="597.00" x2="672.50" y2="709.75" stroke="#9a9a9a" stroke-width="1" stroke-dasharray="2,2.15"/>
<line x1="728.50" y1="597.00" x2="728.50" y2="709.75" stroke="#8a8a8a" stroke-width="1"/>
<line x1="785.50" y1="597.00" x2="785.50" y2="709.75" stroke="#9a9a9a" stroke-width="1" stroke-dasharray="2,2.15"/>
<line x1="841.50" y1="597.00" x2="841.50" y2="709.75" stroke="#9a9a9a" stroke-width="1" stroke-dasharray="2,2.15"/>
<line x1="898.50" y1="597.00" x2="898.50" y2="709.75" stroke="#9a9a9a" stroke-width="1" stroke-dasharray="2,2.15"/>
<line x1="954.50" y1="597.00" x2="954.50" y2="709.75" stroke="#8a8a8a" stroke-width="1"/>
<line x1="1011.50" y1="597.00" x2="1011.50" y2="709.75" stroke="#9a9a9a" stroke-width="1" stroke-dasharray="2,2.15"/>
<line x1="1067.50" y1="597.00" x2="1067.50" y2="709.75" stroke="#9a9a9a" stroke-width="1" stroke-dasharray="2,2.15"/>
<line x1="1123.50" y1="597.00" x2="1123.50" y2="709.75" stroke="#9a9a9a" stroke-width="1" stroke-dasharray="2,2.15"/>
<line x1="1180.50" y1="597.00" x2="1180.50" y2="709.75" stroke="#8a8a8a" stroke-width="1"/>
<text x="29.76" y="600.64" font-size="10.50" font-weight="normal" fill="#111" textLength="12.00" lengthAdjust="spacingAndGlyphs">10</text>
<text x="35.78" y="623.10" font-size="10.50" font-weight="normal" fill="#111" textLength="6.00" lengthAdjust="spacingAndGlyphs">8</text>
<text x="35.73" y="645.54" font-size="10.50" font-weight="normal" fill="#111" textLength="6.00" lengthAdjust="spacingAndGlyphs">6</text>
<text x="35.66" y="668.00" font-size="10.50" font-weight="normal" fill="#111" textLength="6.00" lengthAdjust="spacingAndGlyphs">4</text>
<text x="36.10" y="690.44" font-size="10.50" font-weight="normal" fill="#111" textLength="6.00" lengthAdjust="spacingAndGlyphs">2</text>
<text x="35.76" y="712.89" font-size="10.50" font-weight="normal" fill="#111" textLength="6.00" lengthAdjust="spacingAndGlyphs">0</text>
<rect x="71.28" y="667.49" width="16.7" height="42.36" fill="#0000f8"/>
<rect x="99.50" y="667.49" width="16.7" height="42.36" fill="#0000f8"/>
<rect x="127.73" y="656.72" width="16.7" height="53.13" fill="#0000f8"/>
<rect x="155.95" y="636.74" width="16.7" height="73.11" fill="#0000f8"/>
<rect x="184.18" y="597.00" width="16.7" height="112.85" fill="#0000f8"/>
<rect x="212.40" y="597.00" width="16.7" height="112.85" fill="#0000f8"/>
<rect x="240.63" y="597.00" width="16.7" height="112.85" fill="#0000f8"/>
<rect x="268.85" y="672.99" width="16.7" height="36.86" fill="#0000f8"/>
<rect x="297.07" y="704.54" width="16.7" height="5.31" fill="#0000f8"/>
<rect x="325.30" y="692.52" width="16.7" height="17.33" fill="#0000f8"/>
<rect x="353.52" y="701.28" width="16.7" height="8.57" fill="#0000f8"/>
<rect x="381.75" y="694.55" width="16.7" height="15.30" fill="#0000f8"/>
<rect x="409.97" y="700.27" width="16.7" height="9.58" fill="#0000f8"/>
<rect x="438.20" y="707.00" width="16.7" height="2.85" fill="#0000f8"/>
<rect x="579.32" y="704.20" width="16.7" height="5.65" fill="#0000f8"/>
<rect x="607.55" y="657.05" width="16.7" height="52.80" fill="#0000f8"/>
<rect x="635.77" y="643.70" width="16.7" height="66.15" fill="#0000f8"/>
<rect x="664.00" y="706.78" width="16.7" height="3.07" fill="#0000f8"/>
<rect x="692.23" y="700.72" width="16.7" height="9.13" fill="#0000f8"/>
<rect x="720.45" y="700.05" width="16.7" height="9.80" fill="#0000f8"/>
<rect x="748.67" y="708.02" width="16.7" height="1.83" fill="#0000f8"/>
<rect x="805.12" y="708.02" width="16.7" height="1.83" fill="#0000f8"/>
<rect x="833.35" y="680.07" width="16.7" height="29.78" fill="#0000f8"/>
<rect x="861.58" y="636.96" width="16.7" height="72.89" fill="#0000f8"/>
<rect x="889.80" y="704.09" width="16.7" height="5.76" fill="#0000f8"/>
<rect x="974.48" y="708.13" width="16.7" height="1.72" fill="#0000f8"/>
<rect x="1002.70" y="706.89" width="16.7" height="2.96" fill="#0000f8"/>
<rect x="1030.93" y="703.30" width="16.7" height="6.55" fill="#0000f8"/>
<rect x="1059.15" y="695.89" width="16.7" height="13.96" fill="#0000f8"/>
<rect x="1087.38" y="706.89" width="16.7" height="2.96" fill="#0000f8"/>
<text x="68.97" y="735.70" font-size="12.60" font-weight="bold" fill="#000" stroke="#000" stroke-width="0.25" textLength="347.00" lengthAdjust="spacingAndGlyphs">[%] Πιθανότητα 24ωρου συνολικού υετού πάνω από</text>
<text x="419.97" y="735.70" font-size="12.60" font-weight="bold" fill="#f9a400" stroke="#f9a400" stroke-width="0.25" textLength="8.00" lengthAdjust="spacingAndGlyphs">1</text>
<text x="427.97" y="735.70" font-size="12.60" font-weight="bold" fill="#000" stroke="#000" stroke-width="0.25" textLength="5.00" lengthAdjust="spacingAndGlyphs">,</text>
<text x="436.97" y="735.70" font-size="12.60" font-weight="bold" fill="#e00000" stroke="#e00000" stroke-width="0.25" textLength="8.00" lengthAdjust="spacingAndGlyphs">5</text>
<text x="444.97" y="735.70" font-size="12.60" font-weight="bold" fill="#000" stroke="#000" stroke-width="0.25" textLength="5.00" lengthAdjust="spacingAndGlyphs">,</text>
<text x="453.97" y="735.70" font-size="12.60" font-weight="bold" fill="#10a010" stroke="#10a010" stroke-width="0.25" textLength="16.00" lengthAdjust="spacingAndGlyphs">10</text>
<text x="469.97" y="735.70" font-size="12.60" font-weight="bold" fill="#000" stroke="#000" stroke-width="0.25" textLength="5.00" lengthAdjust="spacingAndGlyphs">,</text>
<text x="478.97" y="735.70" font-size="12.60" font-weight="bold" fill="#1010c0" stroke="#1010c0" stroke-width="0.25" textLength="42.00" lengthAdjust="spacingAndGlyphs">20mm</text>
<text x="524.97" y="735.70" font-size="12.60" font-weight="bold" fill="#0a5a0a" stroke="#0a5a0a" stroke-width="0.25" textLength="110.00" lengthAdjust="spacingAndGlyphs">μέχρι 00:00 UTC</text>
<text x="638.97" y="735.70" font-size="12.60" font-weight="normal" fill="#000" textLength="285.00" lengthAdjust="spacingAndGlyphs">(Probability of 24h total precipitation of at least</text>
<text x="927.97" y="735.70" font-size="12.60" font-weight="normal" fill="#f9a400" textLength="8.00" lengthAdjust="spacingAndGlyphs">1</text>
<text x="935.97" y="735.70" font-size="12.60" font-weight="normal" fill="#000" textLength="4.00" lengthAdjust="spacingAndGlyphs">,</text>
<text x="943.97" y="735.70" font-size="12.60" font-weight="normal" fill="#e00000" textLength="8.00" lengthAdjust="spacingAndGlyphs">5</text>
<text x="951.97" y="735.70" font-size="12.60" font-weight="normal" fill="#000" textLength="4.00" lengthAdjust="spacingAndGlyphs">,</text>
<text x="959.97" y="735.70" font-size="12.60" font-weight="normal" fill="#10a010" textLength="16.00" lengthAdjust="spacingAndGlyphs">10</text>
<text x="975.97" y="735.70" font-size="12.60" font-weight="normal" fill="#000" textLength="4.00" lengthAdjust="spacingAndGlyphs">,</text>
<text x="983.97" y="735.70" font-size="12.60" font-weight="normal" fill="#1010c0" textLength="40.00" lengthAdjust="spacingAndGlyphs">20mm</text>
<text x="1027.97" y="735.70" font-size="12.60" font-weight="normal" fill="#0a5a0a" textLength="95.00" lengthAdjust="spacingAndGlyphs">until 00:00 UTC</text>
<text x="1122.97" y="735.70" font-size="12.60" font-weight="normal" fill="#000" textLength="5.00" lengthAdjust="spacingAndGlyphs">)</text>
<line x1="55.00" y1="792.50" x2="1180.40" y2="792.50" stroke="#bcbcbc" stroke-width="1" stroke-dasharray="2,2.15"/>
<line x1="55.00" y1="779.50" x2="1180.40" y2="779.50" stroke="#bcbcbc" stroke-width="1" stroke-dasharray="2,2.15"/>
<line x1="55.00" y1="766.50" x2="1180.40" y2="766.50" stroke="#bcbcbc" stroke-width="1" stroke-dasharray="2,2.15"/>
<line x1="55.00" y1="753.50" x2="1180.40" y2="753.50" stroke="#bcbcbc" stroke-width="1" stroke-dasharray="2,2.15"/>
<line x1="55.00" y1="740.50" x2="1180.40" y2="740.50" stroke="#bcbcbc" stroke-width="1" stroke-dasharray="2,2.15"/>
<line x1="51.40" y1="738.5" x2="51.40" y2="794.4" stroke="#c4c4c4" stroke-width="3"/>
<line x1="164.30" y1="738.5" x2="164.30" y2="794.4" stroke="#c4c4c4" stroke-width="3"/>
<line x1="277.20" y1="738.5" x2="277.20" y2="794.4" stroke="#c4c4c4" stroke-width="3"/>
<line x1="390.10" y1="738.5" x2="390.10" y2="794.4" stroke="#c4c4c4" stroke-width="3"/>
<line x1="503.00" y1="738.5" x2="503.00" y2="794.4" stroke="#c4c4c4" stroke-width="3"/>
<line x1="615.90" y1="738.5" x2="615.90" y2="794.4" stroke="#c4c4c4" stroke-width="3"/>
<line x1="728.80" y1="738.5" x2="728.80" y2="794.4" stroke="#c4c4c4" stroke-width="3"/>
<line x1="841.70" y1="738.5" x2="841.70" y2="794.4" stroke="#c4c4c4" stroke-width="3"/>
<line x1="954.60" y1="738.5" x2="954.60" y2="794.4" stroke="#c4c4c4" stroke-width="3"/>
<line x1="1067.50" y1="738.5" x2="1067.50" y2="794.4" stroke="#c4c4c4" stroke-width="3"/>
<line x1="1180.40" y1="738.5" x2="1180.40" y2="794.4" stroke="#c4c4c4" stroke-width="3"/>
<text x="11.46" y="742.94" font-size="10.50" font-weight="normal" fill="#111" textLength="18.00" lengthAdjust="spacingAndGlyphs">100</text>
<text x="17.67" y="755.94" font-size="10.50" font-weight="normal" fill="#111" textLength="12.00" lengthAdjust="spacingAndGlyphs">75</text>
<text x="17.46" y="769.25" font-size="10.50" font-weight="normal" fill="#111" textLength="12.00" lengthAdjust="spacingAndGlyphs">50</text>
<text x="17.67" y="782.35" font-size="10.50" font-weight="normal" fill="#111" textLength="12.00" lengthAdjust="spacingAndGlyphs">25</text>
<text x="23.46" y="795.85" font-size="10.50" font-weight="normal" fill="#111" textLength="6.00" lengthAdjust="spacingAndGlyphs">0</text>
<rect x="258.35" y="740.3" width="37.7" height="52.3" fill="#6a78e8" stroke="#1010b8" stroke-width="1.8"/>
<rect x="261.00" y="741.2" width="32.4" height="50.5" fill="#24506c"/>
<rect x="265.20" y="741.2" width="24" height="50.5" fill="#2c3160"/>
<rect x="266.70" y="741.2" width="21" height="50.5" fill="#2e3450"/>
<rect x="494.50" y="745.09" width="17" height="47.41" fill="#fdaa00"/>
<rect x="491.50" y="778.43" width="23" height="14.07" fill="#ff4a10" stroke="#e00010" stroke-width="1.3"/>
<rect x="487.50" y="787.03" width="31" height="5.47" fill="#4a9a28" stroke="#10900f" stroke-width="1.3"/>
<rect x="491.50" y="787.73" width="23" height="4.77" fill="#6a8a10"/>
<rect x="483.50" y="790.90" width="39" height="2.2" fill="#143a3a"/>
<rect x="720.30" y="746.13" width="17" height="46.37" fill="#fdaa00"/>
<rect x="717.30" y="768.01" width="23" height="24.49" fill="#ff4a10" stroke="#e00010" stroke-width="1.3"/>
<rect x="713.30" y="783.12" width="31" height="9.38" fill="#4a9a28" stroke="#10900f" stroke-width="1.3"/>
<rect x="717.30" y="783.82" width="23" height="8.68" fill="#6a8a10"/>
<rect x="709.30" y="790.90" width="39" height="2.2" fill="#143a3a"/>
<rect x="946.10" y="746.91" width="17" height="45.59" fill="#fdaa00"/>
<rect x="943.10" y="770.36" width="23" height="22.14" fill="#ff4a10" stroke="#e00010" stroke-width="1.3"/>
<rect x="939.10" y="782.60" width="31" height="9.90" fill="#4a9a28" stroke="#10900f" stroke-width="1.3"/>
<rect x="943.10" y="783.30" width="23" height="9.20" fill="#6a8a10"/>
<rect x="935.10" y="790.90" width="39" height="2.2" fill="#143a3a"/>
<rect x="1171.90" y="760.72" width="17" height="31.78" fill="#fdaa00"/>
<rect x="1168.90" y="786.25" width="23" height="6.25" fill="#ff4a10" stroke="#e00010" stroke-width="1.3"/>
<text x="35.40" y="803.90" font-size="10.50" font-weight="bold" fill="#000" stroke="#000" stroke-width="0.25" textLength="32.00" lengthAdjust="spacingAndGlyphs">00:00</text>
<text x="40.90" y="816.90" font-size="10.50" font-weight="bold" fill="#000" stroke="#000" stroke-width="0.25" textLength="21.00" lengthAdjust="spacingAndGlyphs">ΤΕΤ</text>
<text x="35.40" y="829.80" font-size="10.50" font-weight="bold" fill="#000" stroke="#000" stroke-width="0.25" textLength="32.00" lengthAdjust="spacingAndGlyphs">01.04</text>
<text x="148.30" y="803.90" font-size="10.50" font-weight="bold" fill="#000" stroke="#000" stroke-width="0.25" textLength="32.00" lengthAdjust="spacingAndGlyphs">12:00</text>
<text x="153.80" y="816.90" font-size="10.50" font-weight="bold" fill="#000" stroke="#000" stroke-width="0.25" textLength="21.00" lengthAdjust="spacingAndGlyphs">ΤΕΤ</text>
<text x="148.30" y="829.80" font-size="10.50" font-weight="bold" fill="#000" stroke="#000" stroke-width="0.25" textLength="32.00" lengthAdjust="spacingAndGlyphs">01.04</text>
<text x="261.20" y="803.90" font-size="10.50" font-weight="bold" fill="#000" stroke="#000" stroke-width="0.25" textLength="32.00" lengthAdjust="spacingAndGlyphs">00:00</text>
<text x="264.70" y="816.90" font-size="10.50" font-weight="bold" fill="#000" stroke="#000" stroke-width="0.25" textLength="25.00" lengthAdjust="spacingAndGlyphs">ΠΕΜ</text>
<text x="261.20" y="829.80" font-size="10.50" font-weight="bold" fill="#000" stroke="#000" stroke-width="0.25" textLength="32.00" lengthAdjust="spacingAndGlyphs">02.04</text>
<text x="374.10" y="803.90" font-size="10.50" font-weight="bold" fill="#000" stroke="#000" stroke-width="0.25" textLength="32.00" lengthAdjust="spacingAndGlyphs">12:00</text>
<text x="377.60" y="816.90" font-size="10.50" font-weight="bold" fill="#000" stroke="#000" stroke-width="0.25" textLength="25.00" lengthAdjust="spacingAndGlyphs">ΠΕΜ</text>
<text x="374.10" y="829.80" font-size="10.50" font-weight="bold" fill="#000" stroke="#000" stroke-width="0.25" textLength="32.00" lengthAdjust="spacingAndGlyphs">02.04</text>
<text x="487.00" y="803.90" font-size="10.50" font-weight="bold" fill="#000" stroke="#000" stroke-width="0.25" textLength="32.00" lengthAdjust="spacingAndGlyphs">00:00</text>
<text x="491.50" y="816.90" font-size="10.50" font-weight="bold" fill="#000" stroke="#000" stroke-width="0.25" textLength="23.00" lengthAdjust="spacingAndGlyphs">ΠΑΡ</text>
<text x="487.00" y="829.80" font-size="10.50" font-weight="bold" fill="#000" stroke="#000" stroke-width="0.25" textLength="32.00" lengthAdjust="spacingAndGlyphs">03.04</text>
<text x="599.90" y="803.90" font-size="10.50" font-weight="bold" fill="#000" stroke="#000" stroke-width="0.25" textLength="32.00" lengthAdjust="spacingAndGlyphs">12:00</text>
<text x="604.40" y="816.90" font-size="10.50" font-weight="bold" fill="#000" stroke="#000" stroke-width="0.25" textLength="23.00" lengthAdjust="spacingAndGlyphs">ΠΑΡ</text>
<text x="599.90" y="829.80" font-size="10.50" font-weight="bold" fill="#000" stroke="#000" stroke-width="0.25" textLength="32.00" lengthAdjust="spacingAndGlyphs">03.04</text>
<text x="712.80" y="803.90" font-size="10.50" font-weight="bold" fill="#000" stroke="#000" stroke-width="0.25" textLength="32.00" lengthAdjust="spacingAndGlyphs">00:00</text>
<text x="717.30" y="816.90" font-size="10.50" font-weight="bold" fill="#000" stroke="#000" stroke-width="0.25" textLength="23.00" lengthAdjust="spacingAndGlyphs">ΣΑΒ</text>
<text x="712.80" y="829.80" font-size="10.50" font-weight="bold" fill="#000" stroke="#000" stroke-width="0.25" textLength="32.00" lengthAdjust="spacingAndGlyphs">04.04</text>
<text x="825.70" y="803.90" font-size="10.50" font-weight="bold" fill="#000" stroke="#000" stroke-width="0.25" textLength="32.00" lengthAdjust="spacingAndGlyphs">12:00</text>
<text x="830.20" y="816.90" font-size="10.50" font-weight="bold" fill="#000" stroke="#000" stroke-width="0.25" textLength="23.00" lengthAdjust="spacingAndGlyphs">ΣΑΒ</text>
<text x="825.70" y="829.80" font-size="10.50" font-weight="bold" fill="#000" stroke="#000" stroke-width="0.25" textLength="32.00" lengthAdjust="spacingAndGlyphs">04.04</text>
<text x="938.60" y="803.90" font-size="10.50" font-weight="bold" fill="#000" stroke="#000" stroke-width="0.25" textLength="32.00" lengthAdjust="spacingAndGlyphs">00:00</text>
<text x="943.60" y="816.90" font-size="10.50" font-weight="bold" fill="#000" stroke="#000" stroke-width="0.25" textLength="22.00" lengthAdjust="spacingAndGlyphs">ΚΥΡ</text>
<text x="938.60" y="829.80" font-size="10.50" font-weight="bold" fill="#000" stroke="#000" stroke-width="0.25" textLength="32.00" lengthAdjust="spacingAndGlyphs">05.04</text>
<text x="1051.50" y="803.90" font-size="10.50" font-weight="bold" fill="#000" stroke="#000" stroke-width="0.25" textLength="32.00" lengthAdjust="spacingAndGlyphs">12:00</text>
<text x="1056.50" y="816.90" font-size="10.50" font-weight="bold" fill="#000" stroke="#000" stroke-width="0.25" textLength="22.00" lengthAdjust="spacingAndGlyphs">ΚΥΡ</text>
<text x="1051.50" y="829.80" font-size="10.50" font-weight="bold" fill="#000" stroke="#000" stroke-width="0.25" textLength="32.00" lengthAdjust="spacingAndGlyphs">05.04</text>
<text x="1164.40" y="803.90" font-size="10.50" font-weight="bold" fill="#000" stroke="#000" stroke-width="0.25" textLength="32.00" lengthAdjust="spacingAndGlyphs">00:00</text>
<text x="1169.40" y="816.90" font-size="10.50" font-weight="bold" fill="#000" stroke="#000" stroke-width="0.25" textLength="22.00" lengthAdjust="spacingAndGlyphs">ΔΕΥ</text>
<text x="1164.40" y="829.80" font-size="10.50" font-weight="bold" fill="#000" stroke="#000" stroke-width="0.25" textLength="32.00" lengthAdjust="spacingAndGlyphs">06.04</text>
</svg>
</body></html>
